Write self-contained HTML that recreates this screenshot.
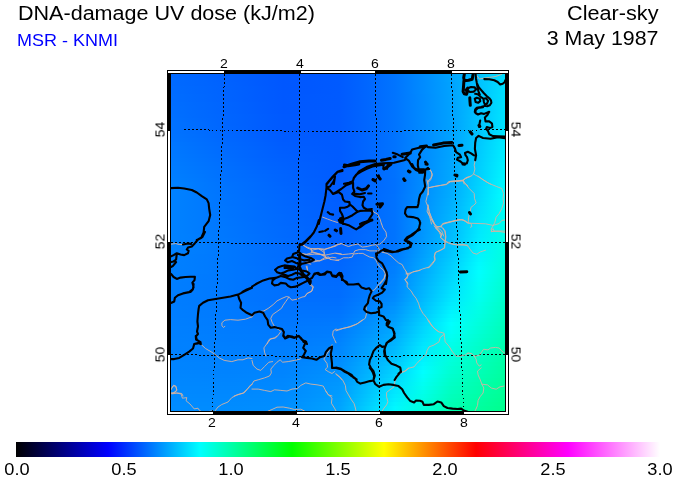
<!DOCTYPE html>
<html><head><meta charset="utf-8"><title>DNA-damage UV dose</title>
<style>
html,body{margin:0;padding:0;background:#fff;}
body{width:676px;height:480px;position:relative;overflow:hidden;font-family:"Liberation Sans",sans-serif;color:#000;}
.t{position:absolute;white-space:nowrap;line-height:1;will-change:transform;-webkit-font-smoothing:antialiased;}
.big{font-size:20px;}
.tl{transform-origin:0 0;}
.tr{transform-origin:100% 0;}
.ax{font-size:13px;width:40px;text-align:center;transform:scaleX(1.08);}
.cb{font-size:17px;width:60px;text-align:center;transform:scaleX(1.07);}
#bar{position:absolute;left:16px;top:442px;width:644px;height:15px;background:linear-gradient(to right,#000000 0.0000%,#0000ff 14.2857%,#00ffff 28.5714%,#00ff00 42.8571%,#ffff00 57.1429%,#ff0000 71.4286%,#ff00ff 85.7143%,#ffffff 100.0000%);}
svg{position:absolute;left:0;top:0;}
</style></head><body>
<div class="t big tl" id="t1" style="left:18px;top:3px;transform:scaleX(1.077)">DNA-damage UV dose (kJ/m2)</div>
<div class="t tl" id="t2" style="left:17px;top:32px;font-size:17px;color:#0000ff;transform:scaleX(1.058)">MSR - KNMI</div>
<div class="t big tr" id="t3" style="right:18px;top:3px;transform:scaleX(1.082)">Clear-sky</div>
<div class="t big tr" id="t4" style="right:17px;top:28px;transform:scaleX(1.069)">3 May 1987</div>
<svg width="676" height="480" viewBox="0 0 676 480">
<defs><linearGradient id="r0"><stop offset="0.0000" stop-color="#0069ff"/><stop offset="0.0838" stop-color="#0065ff"/><stop offset="0.1677" stop-color="#0061ff"/><stop offset="0.2515" stop-color="#005cff"/><stop offset="0.3353" stop-color="#0057ff"/><stop offset="0.4192" stop-color="#0058ff"/><stop offset="0.5030" stop-color="#005aff"/><stop offset="0.5868" stop-color="#0066ff"/><stop offset="0.6707" stop-color="#0074ff"/><stop offset="0.7545" stop-color="#008bff"/><stop offset="0.8383" stop-color="#00a3ff"/><stop offset="0.9222" stop-color="#00c2ff"/><stop offset="1.0000" stop-color="#00deff"/></linearGradient><linearGradient id="r1"><stop offset="0.0000" stop-color="#006aff"/><stop offset="0.0838" stop-color="#0066ff"/><stop offset="0.1677" stop-color="#0061ff"/><stop offset="0.2515" stop-color="#005cff"/><stop offset="0.3353" stop-color="#0057ff"/><stop offset="0.4192" stop-color="#0058ff"/><stop offset="0.5030" stop-color="#005aff"/><stop offset="0.5868" stop-color="#0066ff"/><stop offset="0.6707" stop-color="#0074ff"/><stop offset="0.7545" stop-color="#008bff"/><stop offset="0.8383" stop-color="#00a3ff"/><stop offset="0.9222" stop-color="#00c2ff"/><stop offset="1.0000" stop-color="#00dfff"/></linearGradient><linearGradient id="r2"><stop offset="0.0000" stop-color="#006aff"/><stop offset="0.0838" stop-color="#0066ff"/><stop offset="0.1677" stop-color="#0062ff"/><stop offset="0.2515" stop-color="#005cff"/><stop offset="0.3353" stop-color="#0057ff"/><stop offset="0.4192" stop-color="#0058ff"/><stop offset="0.5030" stop-color="#005aff"/><stop offset="0.5868" stop-color="#0066ff"/><stop offset="0.6707" stop-color="#0074ff"/><stop offset="0.7545" stop-color="#008bff"/><stop offset="0.8383" stop-color="#00a2ff"/><stop offset="0.9222" stop-color="#00c2ff"/><stop offset="1.0000" stop-color="#00dfff"/></linearGradient><linearGradient id="r3"><stop offset="0.0000" stop-color="#006bff"/><stop offset="0.0838" stop-color="#0067ff"/><stop offset="0.1677" stop-color="#0062ff"/><stop offset="0.2515" stop-color="#005dff"/><stop offset="0.3353" stop-color="#0057ff"/><stop offset="0.4192" stop-color="#0058ff"/><stop offset="0.5030" stop-color="#005aff"/><stop offset="0.5868" stop-color="#0066ff"/><stop offset="0.6707" stop-color="#0074ff"/><stop offset="0.7545" stop-color="#008bff"/><stop offset="0.8383" stop-color="#00a2ff"/><stop offset="0.9222" stop-color="#00c2ff"/><stop offset="1.0000" stop-color="#00e0ff"/></linearGradient><linearGradient id="r4"><stop offset="0.0000" stop-color="#006cff"/><stop offset="0.0838" stop-color="#0067ff"/><stop offset="0.1677" stop-color="#0063ff"/><stop offset="0.2515" stop-color="#005dff"/><stop offset="0.3353" stop-color="#0058ff"/><stop offset="0.4192" stop-color="#0058ff"/><stop offset="0.5030" stop-color="#005aff"/><stop offset="0.5868" stop-color="#0066ff"/><stop offset="0.6707" stop-color="#0074ff"/><stop offset="0.7545" stop-color="#008bff"/><stop offset="0.8383" stop-color="#00a2ff"/><stop offset="0.9222" stop-color="#00c2ff"/><stop offset="1.0000" stop-color="#00e0ff"/></linearGradient><linearGradient id="r5"><stop offset="0.0000" stop-color="#006dff"/><stop offset="0.0838" stop-color="#0068ff"/><stop offset="0.1677" stop-color="#0063ff"/><stop offset="0.2515" stop-color="#005dff"/><stop offset="0.3353" stop-color="#0058ff"/><stop offset="0.4192" stop-color="#0059ff"/><stop offset="0.5030" stop-color="#005aff"/><stop offset="0.5868" stop-color="#0066ff"/><stop offset="0.6707" stop-color="#0074ff"/><stop offset="0.7545" stop-color="#008aff"/><stop offset="0.8383" stop-color="#00a2ff"/><stop offset="0.9222" stop-color="#00c3ff"/><stop offset="1.0000" stop-color="#00e1ff"/></linearGradient><linearGradient id="r6"><stop offset="0.0000" stop-color="#006dff"/><stop offset="0.0838" stop-color="#0068ff"/><stop offset="0.1677" stop-color="#0063ff"/><stop offset="0.2515" stop-color="#005dff"/><stop offset="0.3353" stop-color="#0058ff"/><stop offset="0.4192" stop-color="#0059ff"/><stop offset="0.5030" stop-color="#005aff"/><stop offset="0.5868" stop-color="#0066ff"/><stop offset="0.6707" stop-color="#0074ff"/><stop offset="0.7545" stop-color="#008aff"/><stop offset="0.8383" stop-color="#00a2ff"/><stop offset="0.9222" stop-color="#00c3ff"/><stop offset="1.0000" stop-color="#00e1ff"/></linearGradient><linearGradient id="r7"><stop offset="0.0000" stop-color="#006eff"/><stop offset="0.0838" stop-color="#0069ff"/><stop offset="0.1677" stop-color="#0064ff"/><stop offset="0.2515" stop-color="#005eff"/><stop offset="0.3353" stop-color="#0058ff"/><stop offset="0.4192" stop-color="#0059ff"/><stop offset="0.5030" stop-color="#005aff"/><stop offset="0.5868" stop-color="#0066ff"/><stop offset="0.6707" stop-color="#0074ff"/><stop offset="0.7545" stop-color="#008aff"/><stop offset="0.8383" stop-color="#00a2ff"/><stop offset="0.9222" stop-color="#00c3ff"/><stop offset="1.0000" stop-color="#00e2ff"/></linearGradient><linearGradient id="r8"><stop offset="0.0000" stop-color="#006fff"/><stop offset="0.0838" stop-color="#0069ff"/><stop offset="0.1677" stop-color="#0064ff"/><stop offset="0.2515" stop-color="#005eff"/><stop offset="0.3353" stop-color="#0058ff"/><stop offset="0.4192" stop-color="#0059ff"/><stop offset="0.5030" stop-color="#005aff"/><stop offset="0.5868" stop-color="#0066ff"/><stop offset="0.6707" stop-color="#0074ff"/><stop offset="0.7545" stop-color="#008aff"/><stop offset="0.8383" stop-color="#00a2ff"/><stop offset="0.9222" stop-color="#00c3ff"/><stop offset="1.0000" stop-color="#00e2ff"/></linearGradient><linearGradient id="r9"><stop offset="0.0000" stop-color="#006fff"/><stop offset="0.0838" stop-color="#006aff"/><stop offset="0.1677" stop-color="#0064ff"/><stop offset="0.2515" stop-color="#005eff"/><stop offset="0.3353" stop-color="#0058ff"/><stop offset="0.4192" stop-color="#0059ff"/><stop offset="0.5030" stop-color="#005aff"/><stop offset="0.5868" stop-color="#0066ff"/><stop offset="0.6707" stop-color="#0074ff"/><stop offset="0.7545" stop-color="#008aff"/><stop offset="0.8383" stop-color="#00a1ff"/><stop offset="0.9222" stop-color="#00c3ff"/><stop offset="1.0000" stop-color="#00e3ff"/></linearGradient><linearGradient id="r10"><stop offset="0.0000" stop-color="#0070ff"/><stop offset="0.0838" stop-color="#006aff"/><stop offset="0.1677" stop-color="#0065ff"/><stop offset="0.2515" stop-color="#005fff"/><stop offset="0.3353" stop-color="#0059ff"/><stop offset="0.4192" stop-color="#0059ff"/><stop offset="0.5030" stop-color="#005aff"/><stop offset="0.5868" stop-color="#0066ff"/><stop offset="0.6707" stop-color="#0074ff"/><stop offset="0.7545" stop-color="#008aff"/><stop offset="0.8383" stop-color="#00a1ff"/><stop offset="0.9222" stop-color="#00c4ff"/><stop offset="1.0000" stop-color="#00e4ff"/></linearGradient><linearGradient id="r11"><stop offset="0.0000" stop-color="#0071ff"/><stop offset="0.0838" stop-color="#006bff"/><stop offset="0.1677" stop-color="#0065ff"/><stop offset="0.2515" stop-color="#005fff"/><stop offset="0.3353" stop-color="#0059ff"/><stop offset="0.4192" stop-color="#0059ff"/><stop offset="0.5030" stop-color="#005aff"/><stop offset="0.5868" stop-color="#0066ff"/><stop offset="0.6707" stop-color="#0074ff"/><stop offset="0.7545" stop-color="#008aff"/><stop offset="0.8383" stop-color="#00a1ff"/><stop offset="0.9222" stop-color="#00c4ff"/><stop offset="1.0000" stop-color="#00e4ff"/></linearGradient><linearGradient id="r12"><stop offset="0.0000" stop-color="#0072ff"/><stop offset="0.0838" stop-color="#006cff"/><stop offset="0.1677" stop-color="#0065ff"/><stop offset="0.2515" stop-color="#005fff"/><stop offset="0.3353" stop-color="#0059ff"/><stop offset="0.4192" stop-color="#0059ff"/><stop offset="0.5030" stop-color="#005aff"/><stop offset="0.5868" stop-color="#0066ff"/><stop offset="0.6707" stop-color="#0074ff"/><stop offset="0.7545" stop-color="#008aff"/><stop offset="0.8383" stop-color="#00a1ff"/><stop offset="0.9222" stop-color="#00c4ff"/><stop offset="1.0000" stop-color="#00e5ff"/></linearGradient><linearGradient id="r13"><stop offset="0.0000" stop-color="#0072ff"/><stop offset="0.0838" stop-color="#006cff"/><stop offset="0.1677" stop-color="#0066ff"/><stop offset="0.2515" stop-color="#005fff"/><stop offset="0.3353" stop-color="#0059ff"/><stop offset="0.4192" stop-color="#0059ff"/><stop offset="0.5030" stop-color="#005aff"/><stop offset="0.5868" stop-color="#0066ff"/><stop offset="0.6707" stop-color="#0074ff"/><stop offset="0.7545" stop-color="#008aff"/><stop offset="0.8383" stop-color="#00a1ff"/><stop offset="0.9222" stop-color="#00c4ff"/><stop offset="1.0000" stop-color="#00e5ff"/></linearGradient><linearGradient id="r14"><stop offset="0.0000" stop-color="#0073ff"/><stop offset="0.0838" stop-color="#006dff"/><stop offset="0.1677" stop-color="#0066ff"/><stop offset="0.2515" stop-color="#0060ff"/><stop offset="0.3353" stop-color="#005aff"/><stop offset="0.4192" stop-color="#005aff"/><stop offset="0.5030" stop-color="#005aff"/><stop offset="0.5868" stop-color="#0066ff"/><stop offset="0.6707" stop-color="#0073ff"/><stop offset="0.7545" stop-color="#008aff"/><stop offset="0.8383" stop-color="#00a1ff"/><stop offset="0.9222" stop-color="#00c5ff"/><stop offset="1.0000" stop-color="#00e6ff"/></linearGradient><linearGradient id="r15"><stop offset="0.0000" stop-color="#0074ff"/><stop offset="0.0838" stop-color="#006eff"/><stop offset="0.1677" stop-color="#0067ff"/><stop offset="0.2515" stop-color="#0061ff"/><stop offset="0.3353" stop-color="#005bff"/><stop offset="0.4192" stop-color="#005aff"/><stop offset="0.5030" stop-color="#005aff"/><stop offset="0.5868" stop-color="#0066ff"/><stop offset="0.6707" stop-color="#0073ff"/><stop offset="0.7545" stop-color="#008aff"/><stop offset="0.8383" stop-color="#00a2ff"/><stop offset="0.9222" stop-color="#00c6ff"/><stop offset="1.0000" stop-color="#00e8ff"/></linearGradient><linearGradient id="r16"><stop offset="0.0000" stop-color="#0075ff"/><stop offset="0.0838" stop-color="#006fff"/><stop offset="0.1677" stop-color="#0068ff"/><stop offset="0.2515" stop-color="#0062ff"/><stop offset="0.3353" stop-color="#005bff"/><stop offset="0.4192" stop-color="#005bff"/><stop offset="0.5030" stop-color="#005aff"/><stop offset="0.5868" stop-color="#0066ff"/><stop offset="0.6707" stop-color="#0073ff"/><stop offset="0.7545" stop-color="#008aff"/><stop offset="0.8383" stop-color="#00a2ff"/><stop offset="0.9222" stop-color="#00c7ff"/><stop offset="1.0000" stop-color="#00e9ff"/></linearGradient><linearGradient id="r17"><stop offset="0.0000" stop-color="#0077ff"/><stop offset="0.0838" stop-color="#0070ff"/><stop offset="0.1677" stop-color="#0069ff"/><stop offset="0.2515" stop-color="#0063ff"/><stop offset="0.3353" stop-color="#005cff"/><stop offset="0.4192" stop-color="#005bff"/><stop offset="0.5030" stop-color="#005aff"/><stop offset="0.5868" stop-color="#0066ff"/><stop offset="0.6707" stop-color="#0073ff"/><stop offset="0.7545" stop-color="#008aff"/><stop offset="0.8383" stop-color="#00a3ff"/><stop offset="0.9222" stop-color="#00c8ff"/><stop offset="1.0000" stop-color="#00ebff"/></linearGradient><linearGradient id="r18"><stop offset="0.0000" stop-color="#0078ff"/><stop offset="0.0838" stop-color="#0071ff"/><stop offset="0.1677" stop-color="#006aff"/><stop offset="0.2515" stop-color="#0064ff"/><stop offset="0.3353" stop-color="#005dff"/><stop offset="0.4192" stop-color="#005cff"/><stop offset="0.5030" stop-color="#005aff"/><stop offset="0.5868" stop-color="#0066ff"/><stop offset="0.6707" stop-color="#0073ff"/><stop offset="0.7545" stop-color="#008bff"/><stop offset="0.8383" stop-color="#00a3ff"/><stop offset="0.9222" stop-color="#00c9ff"/><stop offset="1.0000" stop-color="#00ecff"/></linearGradient><linearGradient id="r19"><stop offset="0.0000" stop-color="#0079ff"/><stop offset="0.0838" stop-color="#0072ff"/><stop offset="0.1677" stop-color="#006bff"/><stop offset="0.2515" stop-color="#0065ff"/><stop offset="0.3353" stop-color="#005eff"/><stop offset="0.4192" stop-color="#005cff"/><stop offset="0.5030" stop-color="#005bff"/><stop offset="0.5868" stop-color="#0066ff"/><stop offset="0.6707" stop-color="#0073ff"/><stop offset="0.7545" stop-color="#008bff"/><stop offset="0.8383" stop-color="#00a4ff"/><stop offset="0.9222" stop-color="#00caff"/><stop offset="1.0000" stop-color="#00eeff"/></linearGradient><linearGradient id="r20"><stop offset="0.0000" stop-color="#007aff"/><stop offset="0.0838" stop-color="#0073ff"/><stop offset="0.1677" stop-color="#006cff"/><stop offset="0.2515" stop-color="#0065ff"/><stop offset="0.3353" stop-color="#005fff"/><stop offset="0.4192" stop-color="#005dff"/><stop offset="0.5030" stop-color="#005bff"/><stop offset="0.5868" stop-color="#0066ff"/><stop offset="0.6707" stop-color="#0072ff"/><stop offset="0.7545" stop-color="#008bff"/><stop offset="0.8383" stop-color="#00a4ff"/><stop offset="0.9222" stop-color="#00cbff"/><stop offset="1.0000" stop-color="#00efff"/></linearGradient><linearGradient id="r21"><stop offset="0.0000" stop-color="#007bff"/><stop offset="0.0838" stop-color="#0074ff"/><stop offset="0.1677" stop-color="#006dff"/><stop offset="0.2515" stop-color="#0066ff"/><stop offset="0.3353" stop-color="#0060ff"/><stop offset="0.4192" stop-color="#005dff"/><stop offset="0.5030" stop-color="#005bff"/><stop offset="0.5868" stop-color="#0066ff"/><stop offset="0.6707" stop-color="#0072ff"/><stop offset="0.7545" stop-color="#008bff"/><stop offset="0.8383" stop-color="#00a5ff"/><stop offset="0.9222" stop-color="#00ccff"/><stop offset="1.0000" stop-color="#00f0ff"/></linearGradient><linearGradient id="r22"><stop offset="0.0000" stop-color="#007cff"/><stop offset="0.0838" stop-color="#0075ff"/><stop offset="0.1677" stop-color="#006eff"/><stop offset="0.2515" stop-color="#0067ff"/><stop offset="0.3353" stop-color="#0061ff"/><stop offset="0.4192" stop-color="#005eff"/><stop offset="0.5030" stop-color="#005bff"/><stop offset="0.5868" stop-color="#0066ff"/><stop offset="0.6707" stop-color="#0072ff"/><stop offset="0.7545" stop-color="#008bff"/><stop offset="0.8383" stop-color="#00a6ff"/><stop offset="0.9222" stop-color="#00cdff"/><stop offset="1.0000" stop-color="#00f2ff"/></linearGradient><linearGradient id="r23"><stop offset="0.0000" stop-color="#007dff"/><stop offset="0.0838" stop-color="#0076ff"/><stop offset="0.1677" stop-color="#006fff"/><stop offset="0.2515" stop-color="#0068ff"/><stop offset="0.3353" stop-color="#0062ff"/><stop offset="0.4192" stop-color="#005eff"/><stop offset="0.5030" stop-color="#005bff"/><stop offset="0.5868" stop-color="#0066ff"/><stop offset="0.6707" stop-color="#0072ff"/><stop offset="0.7545" stop-color="#008cff"/><stop offset="0.8383" stop-color="#00a6ff"/><stop offset="0.9222" stop-color="#00ceff"/><stop offset="1.0000" stop-color="#00f3ff"/></linearGradient><linearGradient id="r24"><stop offset="0.0000" stop-color="#007eff"/><stop offset="0.0838" stop-color="#0077ff"/><stop offset="0.1677" stop-color="#0070ff"/><stop offset="0.2515" stop-color="#0069ff"/><stop offset="0.3353" stop-color="#0063ff"/><stop offset="0.4192" stop-color="#005fff"/><stop offset="0.5030" stop-color="#005cff"/><stop offset="0.5868" stop-color="#0066ff"/><stop offset="0.6707" stop-color="#0072ff"/><stop offset="0.7545" stop-color="#008cff"/><stop offset="0.8383" stop-color="#00a7ff"/><stop offset="0.9222" stop-color="#00cfff"/><stop offset="1.0000" stop-color="#00f5ff"/></linearGradient><linearGradient id="r25"><stop offset="0.0000" stop-color="#007fff"/><stop offset="0.0838" stop-color="#0078ff"/><stop offset="0.1677" stop-color="#0070ff"/><stop offset="0.2515" stop-color="#006aff"/><stop offset="0.3353" stop-color="#0064ff"/><stop offset="0.4192" stop-color="#005fff"/><stop offset="0.5030" stop-color="#005cff"/><stop offset="0.5868" stop-color="#0066ff"/><stop offset="0.6707" stop-color="#0072ff"/><stop offset="0.7545" stop-color="#008cff"/><stop offset="0.8383" stop-color="#00a7ff"/><stop offset="0.9222" stop-color="#00d0ff"/><stop offset="1.0000" stop-color="#00f6ff"/></linearGradient><linearGradient id="r26"><stop offset="0.0000" stop-color="#0080ff"/><stop offset="0.0838" stop-color="#0079ff"/><stop offset="0.1677" stop-color="#0071ff"/><stop offset="0.2515" stop-color="#006bff"/><stop offset="0.3353" stop-color="#0064ff"/><stop offset="0.4192" stop-color="#0060ff"/><stop offset="0.5030" stop-color="#005cff"/><stop offset="0.5868" stop-color="#0066ff"/><stop offset="0.6707" stop-color="#0071ff"/><stop offset="0.7545" stop-color="#008cff"/><stop offset="0.8383" stop-color="#00a8ff"/><stop offset="0.9222" stop-color="#00d1ff"/><stop offset="1.0000" stop-color="#00f8ff"/></linearGradient><linearGradient id="r27"><stop offset="0.0000" stop-color="#0082ff"/><stop offset="0.0838" stop-color="#007aff"/><stop offset="0.1677" stop-color="#0072ff"/><stop offset="0.2515" stop-color="#006cff"/><stop offset="0.3353" stop-color="#0065ff"/><stop offset="0.4192" stop-color="#0060ff"/><stop offset="0.5030" stop-color="#005cff"/><stop offset="0.5868" stop-color="#0066ff"/><stop offset="0.6707" stop-color="#0071ff"/><stop offset="0.7545" stop-color="#008cff"/><stop offset="0.8383" stop-color="#00a8ff"/><stop offset="0.9222" stop-color="#00d2ff"/><stop offset="1.0000" stop-color="#00f9ff"/></linearGradient><linearGradient id="r28"><stop offset="0.0000" stop-color="#0082ff"/><stop offset="0.0838" stop-color="#007aff"/><stop offset="0.1677" stop-color="#0073ff"/><stop offset="0.2515" stop-color="#006cff"/><stop offset="0.3353" stop-color="#0066ff"/><stop offset="0.4192" stop-color="#0061ff"/><stop offset="0.5030" stop-color="#005cff"/><stop offset="0.5868" stop-color="#0066ff"/><stop offset="0.6707" stop-color="#0071ff"/><stop offset="0.7545" stop-color="#008dff"/><stop offset="0.8383" stop-color="#00a9ff"/><stop offset="0.9222" stop-color="#00d4ff"/><stop offset="1.0000" stop-color="#00fbff"/></linearGradient><linearGradient id="r29"><stop offset="0.0000" stop-color="#0082ff"/><stop offset="0.0838" stop-color="#007bff"/><stop offset="0.1677" stop-color="#0073ff"/><stop offset="0.2515" stop-color="#006dff"/><stop offset="0.3353" stop-color="#0066ff"/><stop offset="0.4192" stop-color="#0061ff"/><stop offset="0.5030" stop-color="#005dff"/><stop offset="0.5868" stop-color="#0067ff"/><stop offset="0.6707" stop-color="#0071ff"/><stop offset="0.7545" stop-color="#008eff"/><stop offset="0.8383" stop-color="#00abff"/><stop offset="0.9222" stop-color="#00d6ff"/><stop offset="1.0000" stop-color="#00fdff"/></linearGradient><linearGradient id="r30"><stop offset="0.0000" stop-color="#0082ff"/><stop offset="0.0838" stop-color="#007bff"/><stop offset="0.1677" stop-color="#0074ff"/><stop offset="0.2515" stop-color="#006dff"/><stop offset="0.3353" stop-color="#0067ff"/><stop offset="0.4192" stop-color="#0062ff"/><stop offset="0.5030" stop-color="#005dff"/><stop offset="0.5868" stop-color="#0067ff"/><stop offset="0.6707" stop-color="#0072ff"/><stop offset="0.7545" stop-color="#008fff"/><stop offset="0.8383" stop-color="#00acff"/><stop offset="0.9222" stop-color="#00d7ff"/><stop offset="1.0000" stop-color="#00ffff"/></linearGradient><linearGradient id="r31"><stop offset="0.0000" stop-color="#0082ff"/><stop offset="0.0838" stop-color="#007bff"/><stop offset="0.1677" stop-color="#0074ff"/><stop offset="0.2515" stop-color="#006eff"/><stop offset="0.3353" stop-color="#0067ff"/><stop offset="0.4192" stop-color="#0062ff"/><stop offset="0.5030" stop-color="#005dff"/><stop offset="0.5868" stop-color="#0067ff"/><stop offset="0.6707" stop-color="#0072ff"/><stop offset="0.7545" stop-color="#008fff"/><stop offset="0.8383" stop-color="#00aeff"/><stop offset="0.9222" stop-color="#00d9ff"/><stop offset="1.0000" stop-color="#00fffc"/></linearGradient><linearGradient id="r32"><stop offset="0.0000" stop-color="#0082ff"/><stop offset="0.0838" stop-color="#007bff"/><stop offset="0.1677" stop-color="#0074ff"/><stop offset="0.2515" stop-color="#006eff"/><stop offset="0.3353" stop-color="#0067ff"/><stop offset="0.4192" stop-color="#0062ff"/><stop offset="0.5030" stop-color="#005eff"/><stop offset="0.5868" stop-color="#0068ff"/><stop offset="0.6707" stop-color="#0072ff"/><stop offset="0.7545" stop-color="#0090ff"/><stop offset="0.8383" stop-color="#00afff"/><stop offset="0.9222" stop-color="#00dbff"/><stop offset="1.0000" stop-color="#00fffa"/></linearGradient><linearGradient id="r33"><stop offset="0.0000" stop-color="#0082ff"/><stop offset="0.0838" stop-color="#007bff"/><stop offset="0.1677" stop-color="#0075ff"/><stop offset="0.2515" stop-color="#006eff"/><stop offset="0.3353" stop-color="#0068ff"/><stop offset="0.4192" stop-color="#0063ff"/><stop offset="0.5030" stop-color="#005eff"/><stop offset="0.5868" stop-color="#0068ff"/><stop offset="0.6707" stop-color="#0072ff"/><stop offset="0.7545" stop-color="#0091ff"/><stop offset="0.8383" stop-color="#00b1ff"/><stop offset="0.9222" stop-color="#00ddff"/><stop offset="1.0000" stop-color="#00fff8"/></linearGradient><linearGradient id="r34"><stop offset="0.0000" stop-color="#0082ff"/><stop offset="0.0838" stop-color="#007cff"/><stop offset="0.1677" stop-color="#0075ff"/><stop offset="0.2515" stop-color="#006fff"/><stop offset="0.3353" stop-color="#0068ff"/><stop offset="0.4192" stop-color="#0063ff"/><stop offset="0.5030" stop-color="#005fff"/><stop offset="0.5868" stop-color="#0068ff"/><stop offset="0.6707" stop-color="#0073ff"/><stop offset="0.7545" stop-color="#0092ff"/><stop offset="0.8383" stop-color="#00b2ff"/><stop offset="0.9222" stop-color="#00dfff"/><stop offset="1.0000" stop-color="#00fff6"/></linearGradient><linearGradient id="r35"><stop offset="0.0000" stop-color="#0082ff"/><stop offset="0.0838" stop-color="#007cff"/><stop offset="0.1677" stop-color="#0075ff"/><stop offset="0.2515" stop-color="#006fff"/><stop offset="0.3353" stop-color="#0069ff"/><stop offset="0.4192" stop-color="#0063ff"/><stop offset="0.5030" stop-color="#005fff"/><stop offset="0.5868" stop-color="#0068ff"/><stop offset="0.6707" stop-color="#0073ff"/><stop offset="0.7545" stop-color="#0093ff"/><stop offset="0.8383" stop-color="#00b4ff"/><stop offset="0.9222" stop-color="#00e1ff"/><stop offset="1.0000" stop-color="#00fff4"/></linearGradient><linearGradient id="r36"><stop offset="0.0000" stop-color="#0082ff"/><stop offset="0.0838" stop-color="#007cff"/><stop offset="0.1677" stop-color="#0076ff"/><stop offset="0.2515" stop-color="#006fff"/><stop offset="0.3353" stop-color="#0069ff"/><stop offset="0.4192" stop-color="#0064ff"/><stop offset="0.5030" stop-color="#005fff"/><stop offset="0.5868" stop-color="#0069ff"/><stop offset="0.6707" stop-color="#0073ff"/><stop offset="0.7545" stop-color="#0094ff"/><stop offset="0.8383" stop-color="#00b5ff"/><stop offset="0.9222" stop-color="#00e3ff"/><stop offset="1.0000" stop-color="#00fff2"/></linearGradient><linearGradient id="r37"><stop offset="0.0000" stop-color="#0082ff"/><stop offset="0.0838" stop-color="#007cff"/><stop offset="0.1677" stop-color="#0076ff"/><stop offset="0.2515" stop-color="#0070ff"/><stop offset="0.3353" stop-color="#0069ff"/><stop offset="0.4192" stop-color="#0064ff"/><stop offset="0.5030" stop-color="#0060ff"/><stop offset="0.5868" stop-color="#0069ff"/><stop offset="0.6707" stop-color="#0073ff"/><stop offset="0.7545" stop-color="#0095ff"/><stop offset="0.8383" stop-color="#00b7ff"/><stop offset="0.9222" stop-color="#00e4ff"/><stop offset="1.0000" stop-color="#00ffef"/></linearGradient><linearGradient id="r38"><stop offset="0.0000" stop-color="#0082ff"/><stop offset="0.0838" stop-color="#007cff"/><stop offset="0.1677" stop-color="#0077ff"/><stop offset="0.2515" stop-color="#0070ff"/><stop offset="0.3353" stop-color="#006aff"/><stop offset="0.4192" stop-color="#0065ff"/><stop offset="0.5030" stop-color="#0060ff"/><stop offset="0.5868" stop-color="#0069ff"/><stop offset="0.6707" stop-color="#0073ff"/><stop offset="0.7545" stop-color="#0095ff"/><stop offset="0.8383" stop-color="#00b8ff"/><stop offset="0.9222" stop-color="#00e6ff"/><stop offset="1.0000" stop-color="#00ffed"/></linearGradient><linearGradient id="r39"><stop offset="0.0000" stop-color="#0082ff"/><stop offset="0.0838" stop-color="#007cff"/><stop offset="0.1677" stop-color="#0077ff"/><stop offset="0.2515" stop-color="#0070ff"/><stop offset="0.3353" stop-color="#006aff"/><stop offset="0.4192" stop-color="#0065ff"/><stop offset="0.5030" stop-color="#0060ff"/><stop offset="0.5868" stop-color="#0069ff"/><stop offset="0.6707" stop-color="#0074ff"/><stop offset="0.7545" stop-color="#0096ff"/><stop offset="0.8383" stop-color="#00baff"/><stop offset="0.9222" stop-color="#00e8ff"/><stop offset="1.0000" stop-color="#00ffeb"/></linearGradient><linearGradient id="r40"><stop offset="0.0000" stop-color="#0082ff"/><stop offset="0.0838" stop-color="#007dff"/><stop offset="0.1677" stop-color="#0077ff"/><stop offset="0.2515" stop-color="#0071ff"/><stop offset="0.3353" stop-color="#006aff"/><stop offset="0.4192" stop-color="#0065ff"/><stop offset="0.5030" stop-color="#0061ff"/><stop offset="0.5868" stop-color="#006aff"/><stop offset="0.6707" stop-color="#0074ff"/><stop offset="0.7545" stop-color="#0097ff"/><stop offset="0.8383" stop-color="#00bbff"/><stop offset="0.9222" stop-color="#00eaff"/><stop offset="1.0000" stop-color="#00ffe9"/></linearGradient><linearGradient id="r41"><stop offset="0.0000" stop-color="#0082ff"/><stop offset="0.0838" stop-color="#007dff"/><stop offset="0.1677" stop-color="#0078ff"/><stop offset="0.2515" stop-color="#0071ff"/><stop offset="0.3353" stop-color="#006bff"/><stop offset="0.4192" stop-color="#0066ff"/><stop offset="0.5030" stop-color="#0061ff"/><stop offset="0.5868" stop-color="#006aff"/><stop offset="0.6707" stop-color="#0074ff"/><stop offset="0.7545" stop-color="#0098ff"/><stop offset="0.8383" stop-color="#00bdff"/><stop offset="0.9222" stop-color="#00ecff"/><stop offset="1.0000" stop-color="#00ffe7"/></linearGradient><linearGradient id="r42"><stop offset="0.0000" stop-color="#0082ff"/><stop offset="0.0838" stop-color="#007dff"/><stop offset="0.1677" stop-color="#0078ff"/><stop offset="0.2515" stop-color="#0071ff"/><stop offset="0.3353" stop-color="#006bff"/><stop offset="0.4192" stop-color="#0066ff"/><stop offset="0.5030" stop-color="#0062ff"/><stop offset="0.5868" stop-color="#006bff"/><stop offset="0.6707" stop-color="#0075ff"/><stop offset="0.7545" stop-color="#009aff"/><stop offset="0.8383" stop-color="#00bfff"/><stop offset="0.9222" stop-color="#00eeff"/><stop offset="1.0000" stop-color="#00ffe5"/></linearGradient><linearGradient id="r43"><stop offset="0.0000" stop-color="#0082ff"/><stop offset="0.0838" stop-color="#007dff"/><stop offset="0.1677" stop-color="#0078ff"/><stop offset="0.2515" stop-color="#0072ff"/><stop offset="0.3353" stop-color="#006bff"/><stop offset="0.4192" stop-color="#0067ff"/><stop offset="0.5030" stop-color="#0063ff"/><stop offset="0.5868" stop-color="#006cff"/><stop offset="0.6707" stop-color="#0076ff"/><stop offset="0.7545" stop-color="#009cff"/><stop offset="0.8383" stop-color="#00c2ff"/><stop offset="0.9222" stop-color="#00f0ff"/><stop offset="1.0000" stop-color="#00ffe3"/></linearGradient><linearGradient id="r44"><stop offset="0.0000" stop-color="#0081ff"/><stop offset="0.0838" stop-color="#007dff"/><stop offset="0.1677" stop-color="#0078ff"/><stop offset="0.2515" stop-color="#0072ff"/><stop offset="0.3353" stop-color="#006cff"/><stop offset="0.4192" stop-color="#0067ff"/><stop offset="0.5030" stop-color="#0063ff"/><stop offset="0.5868" stop-color="#006dff"/><stop offset="0.6707" stop-color="#0078ff"/><stop offset="0.7545" stop-color="#009eff"/><stop offset="0.8383" stop-color="#00c5ff"/><stop offset="0.9222" stop-color="#00f3ff"/><stop offset="1.0000" stop-color="#00ffe1"/></linearGradient><linearGradient id="r45"><stop offset="0.0000" stop-color="#0081ff"/><stop offset="0.0838" stop-color="#007cff"/><stop offset="0.1677" stop-color="#0078ff"/><stop offset="0.2515" stop-color="#0072ff"/><stop offset="0.3353" stop-color="#006cff"/><stop offset="0.4192" stop-color="#0068ff"/><stop offset="0.5030" stop-color="#0064ff"/><stop offset="0.5868" stop-color="#006fff"/><stop offset="0.6707" stop-color="#007aff"/><stop offset="0.7545" stop-color="#00a0ff"/><stop offset="0.8383" stop-color="#00c7ff"/><stop offset="0.9222" stop-color="#00f5ff"/><stop offset="1.0000" stop-color="#00ffdf"/></linearGradient><linearGradient id="r46"><stop offset="0.0000" stop-color="#0080ff"/><stop offset="0.0838" stop-color="#007cff"/><stop offset="0.1677" stop-color="#0078ff"/><stop offset="0.2515" stop-color="#0072ff"/><stop offset="0.3353" stop-color="#006dff"/><stop offset="0.4192" stop-color="#0069ff"/><stop offset="0.5030" stop-color="#0065ff"/><stop offset="0.5868" stop-color="#0070ff"/><stop offset="0.6707" stop-color="#007bff"/><stop offset="0.7545" stop-color="#00a3ff"/><stop offset="0.8383" stop-color="#00caff"/><stop offset="0.9222" stop-color="#00f7ff"/><stop offset="1.0000" stop-color="#00ffdd"/></linearGradient><linearGradient id="r47"><stop offset="0.0000" stop-color="#0080ff"/><stop offset="0.0838" stop-color="#007cff"/><stop offset="0.1677" stop-color="#0078ff"/><stop offset="0.2515" stop-color="#0072ff"/><stop offset="0.3353" stop-color="#006dff"/><stop offset="0.4192" stop-color="#0069ff"/><stop offset="0.5030" stop-color="#0066ff"/><stop offset="0.5868" stop-color="#0071ff"/><stop offset="0.6707" stop-color="#007dff"/><stop offset="0.7545" stop-color="#00a5ff"/><stop offset="0.8383" stop-color="#00cdff"/><stop offset="0.9222" stop-color="#00faff"/><stop offset="1.0000" stop-color="#00ffdb"/></linearGradient><linearGradient id="r48"><stop offset="0.0000" stop-color="#0080ff"/><stop offset="0.0838" stop-color="#007cff"/><stop offset="0.1677" stop-color="#0078ff"/><stop offset="0.2515" stop-color="#0073ff"/><stop offset="0.3353" stop-color="#006dff"/><stop offset="0.4192" stop-color="#006aff"/><stop offset="0.5030" stop-color="#0067ff"/><stop offset="0.5868" stop-color="#0072ff"/><stop offset="0.6707" stop-color="#007fff"/><stop offset="0.7545" stop-color="#00a7ff"/><stop offset="0.8383" stop-color="#00d0ff"/><stop offset="0.9222" stop-color="#00fcff"/><stop offset="1.0000" stop-color="#00ffd9"/></linearGradient><linearGradient id="r49"><stop offset="0.0000" stop-color="#007fff"/><stop offset="0.0838" stop-color="#007cff"/><stop offset="0.1677" stop-color="#0078ff"/><stop offset="0.2515" stop-color="#0073ff"/><stop offset="0.3353" stop-color="#006eff"/><stop offset="0.4192" stop-color="#006bff"/><stop offset="0.5030" stop-color="#0068ff"/><stop offset="0.5868" stop-color="#0074ff"/><stop offset="0.6707" stop-color="#0080ff"/><stop offset="0.7545" stop-color="#00a9ff"/><stop offset="0.8383" stop-color="#00d3ff"/><stop offset="0.9222" stop-color="#00ffff"/><stop offset="1.0000" stop-color="#00ffd7"/></linearGradient><linearGradient id="r50"><stop offset="0.0000" stop-color="#007fff"/><stop offset="0.0838" stop-color="#007bff"/><stop offset="0.1677" stop-color="#0078ff"/><stop offset="0.2515" stop-color="#0073ff"/><stop offset="0.3353" stop-color="#006eff"/><stop offset="0.4192" stop-color="#006bff"/><stop offset="0.5030" stop-color="#0069ff"/><stop offset="0.5868" stop-color="#0075ff"/><stop offset="0.6707" stop-color="#0082ff"/><stop offset="0.7545" stop-color="#00acff"/><stop offset="0.8383" stop-color="#00d6ff"/><stop offset="0.9222" stop-color="#00fffd"/><stop offset="1.0000" stop-color="#00ffd5"/></linearGradient><linearGradient id="r51"><stop offset="0.0000" stop-color="#007fff"/><stop offset="0.0838" stop-color="#007bff"/><stop offset="0.1677" stop-color="#0078ff"/><stop offset="0.2515" stop-color="#0073ff"/><stop offset="0.3353" stop-color="#006eff"/><stop offset="0.4192" stop-color="#006cff"/><stop offset="0.5030" stop-color="#006aff"/><stop offset="0.5868" stop-color="#0076ff"/><stop offset="0.6707" stop-color="#0084ff"/><stop offset="0.7545" stop-color="#00aeff"/><stop offset="0.8383" stop-color="#00d8ff"/><stop offset="0.9222" stop-color="#00fffb"/><stop offset="1.0000" stop-color="#00ffd3"/></linearGradient><linearGradient id="r52"><stop offset="0.0000" stop-color="#007eff"/><stop offset="0.0838" stop-color="#007bff"/><stop offset="0.1677" stop-color="#0078ff"/><stop offset="0.2515" stop-color="#0073ff"/><stop offset="0.3353" stop-color="#006fff"/><stop offset="0.4192" stop-color="#006cff"/><stop offset="0.5030" stop-color="#006bff"/><stop offset="0.5868" stop-color="#0077ff"/><stop offset="0.6707" stop-color="#0085ff"/><stop offset="0.7545" stop-color="#00b0ff"/><stop offset="0.8383" stop-color="#00dbff"/><stop offset="0.9222" stop-color="#00fff8"/><stop offset="1.0000" stop-color="#00ffd1"/></linearGradient><linearGradient id="r53"><stop offset="0.0000" stop-color="#007eff"/><stop offset="0.0838" stop-color="#007bff"/><stop offset="0.1677" stop-color="#0078ff"/><stop offset="0.2515" stop-color="#0073ff"/><stop offset="0.3353" stop-color="#006fff"/><stop offset="0.4192" stop-color="#006dff"/><stop offset="0.5030" stop-color="#006cff"/><stop offset="0.5868" stop-color="#0079ff"/><stop offset="0.6707" stop-color="#0087ff"/><stop offset="0.7545" stop-color="#00b3ff"/><stop offset="0.8383" stop-color="#00deff"/><stop offset="0.9222" stop-color="#00fff6"/><stop offset="1.0000" stop-color="#00ffcf"/></linearGradient><linearGradient id="r54"><stop offset="0.0000" stop-color="#007eff"/><stop offset="0.0838" stop-color="#007bff"/><stop offset="0.1677" stop-color="#0078ff"/><stop offset="0.2515" stop-color="#0074ff"/><stop offset="0.3353" stop-color="#0070ff"/><stop offset="0.4192" stop-color="#006eff"/><stop offset="0.5030" stop-color="#006dff"/><stop offset="0.5868" stop-color="#007aff"/><stop offset="0.6707" stop-color="#0088ff"/><stop offset="0.7545" stop-color="#00b5ff"/><stop offset="0.8383" stop-color="#00e1ff"/><stop offset="0.9222" stop-color="#00fff4"/><stop offset="1.0000" stop-color="#00ffcd"/></linearGradient><linearGradient id="r55"><stop offset="0.0000" stop-color="#007dff"/><stop offset="0.0838" stop-color="#007bff"/><stop offset="0.1677" stop-color="#0078ff"/><stop offset="0.2515" stop-color="#0074ff"/><stop offset="0.3353" stop-color="#0070ff"/><stop offset="0.4192" stop-color="#006eff"/><stop offset="0.5030" stop-color="#006dff"/><stop offset="0.5868" stop-color="#007bff"/><stop offset="0.6707" stop-color="#008aff"/><stop offset="0.7545" stop-color="#00b7ff"/><stop offset="0.8383" stop-color="#00e4ff"/><stop offset="0.9222" stop-color="#00fff1"/><stop offset="1.0000" stop-color="#00ffcb"/></linearGradient><linearGradient id="r56"><stop offset="0.0000" stop-color="#007dff"/><stop offset="0.0838" stop-color="#007bff"/><stop offset="0.1677" stop-color="#0078ff"/><stop offset="0.2515" stop-color="#0074ff"/><stop offset="0.3353" stop-color="#0070ff"/><stop offset="0.4192" stop-color="#006fff"/><stop offset="0.5030" stop-color="#006fff"/><stop offset="0.5868" stop-color="#007dff"/><stop offset="0.6707" stop-color="#008cff"/><stop offset="0.7545" stop-color="#00baff"/><stop offset="0.8383" stop-color="#00e7ff"/><stop offset="0.9222" stop-color="#00ffef"/><stop offset="1.0000" stop-color="#00ffc9"/></linearGradient><linearGradient id="r57"><stop offset="0.0000" stop-color="#007dff"/><stop offset="0.0838" stop-color="#007bff"/><stop offset="0.1677" stop-color="#0079ff"/><stop offset="0.2515" stop-color="#0075ff"/><stop offset="0.3353" stop-color="#0072ff"/><stop offset="0.4192" stop-color="#0071ff"/><stop offset="0.5030" stop-color="#0070ff"/><stop offset="0.5868" stop-color="#0080ff"/><stop offset="0.6707" stop-color="#0090ff"/><stop offset="0.7545" stop-color="#00beff"/><stop offset="0.8383" stop-color="#00ebff"/><stop offset="0.9222" stop-color="#00ffeb"/><stop offset="1.0000" stop-color="#00ffc6"/></linearGradient><linearGradient id="r58"><stop offset="0.0000" stop-color="#007eff"/><stop offset="0.0838" stop-color="#007bff"/><stop offset="0.1677" stop-color="#0079ff"/><stop offset="0.2515" stop-color="#0076ff"/><stop offset="0.3353" stop-color="#0073ff"/><stop offset="0.4192" stop-color="#0072ff"/><stop offset="0.5030" stop-color="#0072ff"/><stop offset="0.5868" stop-color="#0082ff"/><stop offset="0.6707" stop-color="#0094ff"/><stop offset="0.7545" stop-color="#00c1ff"/><stop offset="0.8383" stop-color="#00efff"/><stop offset="0.9222" stop-color="#00ffe8"/><stop offset="1.0000" stop-color="#00ffc4"/></linearGradient><linearGradient id="r59"><stop offset="0.0000" stop-color="#007eff"/><stop offset="0.0838" stop-color="#007cff"/><stop offset="0.1677" stop-color="#007aff"/><stop offset="0.2515" stop-color="#0077ff"/><stop offset="0.3353" stop-color="#0074ff"/><stop offset="0.4192" stop-color="#0074ff"/><stop offset="0.5030" stop-color="#0074ff"/><stop offset="0.5868" stop-color="#0085ff"/><stop offset="0.6707" stop-color="#0097ff"/><stop offset="0.7545" stop-color="#00c5ff"/><stop offset="0.8383" stop-color="#00f3ff"/><stop offset="0.9222" stop-color="#00ffe5"/><stop offset="1.0000" stop-color="#00ffc2"/></linearGradient><linearGradient id="r60"><stop offset="0.0000" stop-color="#007eff"/><stop offset="0.0838" stop-color="#007cff"/><stop offset="0.1677" stop-color="#007aff"/><stop offset="0.2515" stop-color="#0077ff"/><stop offset="0.3353" stop-color="#0075ff"/><stop offset="0.4192" stop-color="#0075ff"/><stop offset="0.5030" stop-color="#0076ff"/><stop offset="0.5868" stop-color="#0088ff"/><stop offset="0.6707" stop-color="#009bff"/><stop offset="0.7545" stop-color="#00c9ff"/><stop offset="0.8383" stop-color="#00f7ff"/><stop offset="0.9222" stop-color="#00ffe2"/><stop offset="1.0000" stop-color="#00ffbf"/></linearGradient><linearGradient id="r61"><stop offset="0.0000" stop-color="#007fff"/><stop offset="0.0838" stop-color="#007dff"/><stop offset="0.1677" stop-color="#007bff"/><stop offset="0.2515" stop-color="#0078ff"/><stop offset="0.3353" stop-color="#0076ff"/><stop offset="0.4192" stop-color="#0077ff"/><stop offset="0.5030" stop-color="#0078ff"/><stop offset="0.5868" stop-color="#008bff"/><stop offset="0.6707" stop-color="#009eff"/><stop offset="0.7545" stop-color="#00cdff"/><stop offset="0.8383" stop-color="#00fbff"/><stop offset="0.9222" stop-color="#00ffdf"/><stop offset="1.0000" stop-color="#00ffbd"/></linearGradient><linearGradient id="r62"><stop offset="0.0000" stop-color="#007fff"/><stop offset="0.0838" stop-color="#007dff"/><stop offset="0.1677" stop-color="#007bff"/><stop offset="0.2515" stop-color="#0079ff"/><stop offset="0.3353" stop-color="#0077ff"/><stop offset="0.4192" stop-color="#0078ff"/><stop offset="0.5030" stop-color="#007aff"/><stop offset="0.5868" stop-color="#008dff"/><stop offset="0.6707" stop-color="#00a2ff"/><stop offset="0.7545" stop-color="#00d1ff"/><stop offset="0.8383" stop-color="#00ffff"/><stop offset="0.9222" stop-color="#00ffdc"/><stop offset="1.0000" stop-color="#00ffbb"/></linearGradient><linearGradient id="r63"><stop offset="0.0000" stop-color="#0080ff"/><stop offset="0.0838" stop-color="#007eff"/><stop offset="0.1677" stop-color="#007cff"/><stop offset="0.2515" stop-color="#007aff"/><stop offset="0.3353" stop-color="#0078ff"/><stop offset="0.4192" stop-color="#007aff"/><stop offset="0.5030" stop-color="#007cff"/><stop offset="0.5868" stop-color="#0090ff"/><stop offset="0.6707" stop-color="#00a6ff"/><stop offset="0.7545" stop-color="#00d5ff"/><stop offset="0.8383" stop-color="#00fffc"/><stop offset="0.9222" stop-color="#00ffd9"/><stop offset="1.0000" stop-color="#00ffb8"/></linearGradient><linearGradient id="r64"><stop offset="0.0000" stop-color="#0080ff"/><stop offset="0.0838" stop-color="#007eff"/><stop offset="0.1677" stop-color="#007cff"/><stop offset="0.2515" stop-color="#007bff"/><stop offset="0.3353" stop-color="#0079ff"/><stop offset="0.4192" stop-color="#007bff"/><stop offset="0.5030" stop-color="#007dff"/><stop offset="0.5868" stop-color="#0093ff"/><stop offset="0.6707" stop-color="#00a9ff"/><stop offset="0.7545" stop-color="#00d8ff"/><stop offset="0.8383" stop-color="#00fff8"/><stop offset="0.9222" stop-color="#00ffd6"/><stop offset="1.0000" stop-color="#00ffb6"/></linearGradient><linearGradient id="r65"><stop offset="0.0000" stop-color="#0080ff"/><stop offset="0.0838" stop-color="#007fff"/><stop offset="0.1677" stop-color="#007dff"/><stop offset="0.2515" stop-color="#007cff"/><stop offset="0.3353" stop-color="#007aff"/><stop offset="0.4192" stop-color="#007cff"/><stop offset="0.5030" stop-color="#007fff"/><stop offset="0.5868" stop-color="#0096ff"/><stop offset="0.6707" stop-color="#00adff"/><stop offset="0.7545" stop-color="#00dcff"/><stop offset="0.8383" stop-color="#00fff4"/><stop offset="0.9222" stop-color="#00ffd2"/><stop offset="1.0000" stop-color="#00ffb4"/></linearGradient><linearGradient id="r66"><stop offset="0.0000" stop-color="#0081ff"/><stop offset="0.0838" stop-color="#007fff"/><stop offset="0.1677" stop-color="#007dff"/><stop offset="0.2515" stop-color="#007cff"/><stop offset="0.3353" stop-color="#007bff"/><stop offset="0.4192" stop-color="#007eff"/><stop offset="0.5030" stop-color="#0081ff"/><stop offset="0.5868" stop-color="#0099ff"/><stop offset="0.6707" stop-color="#00b1ff"/><stop offset="0.7545" stop-color="#00e0ff"/><stop offset="0.8383" stop-color="#00fff0"/><stop offset="0.9222" stop-color="#00ffcf"/><stop offset="1.0000" stop-color="#00ffb1"/></linearGradient><linearGradient id="r67"><stop offset="0.0000" stop-color="#0081ff"/><stop offset="0.0838" stop-color="#0080ff"/><stop offset="0.1677" stop-color="#007eff"/><stop offset="0.2515" stop-color="#007dff"/><stop offset="0.3353" stop-color="#007dff"/><stop offset="0.4192" stop-color="#007fff"/><stop offset="0.5030" stop-color="#0083ff"/><stop offset="0.5868" stop-color="#009bff"/><stop offset="0.6707" stop-color="#00b4ff"/><stop offset="0.7545" stop-color="#00e4ff"/><stop offset="0.8383" stop-color="#00ffec"/><stop offset="0.9222" stop-color="#00ffcc"/><stop offset="1.0000" stop-color="#00ffaf"/></linearGradient><linearGradient id="r68"><stop offset="0.0000" stop-color="#0081ff"/><stop offset="0.0838" stop-color="#0080ff"/><stop offset="0.1677" stop-color="#007fff"/><stop offset="0.2515" stop-color="#007eff"/><stop offset="0.3353" stop-color="#007eff"/><stop offset="0.4192" stop-color="#0081ff"/><stop offset="0.5030" stop-color="#0085ff"/><stop offset="0.5868" stop-color="#009eff"/><stop offset="0.6707" stop-color="#00b8ff"/><stop offset="0.7545" stop-color="#00e8ff"/><stop offset="0.8383" stop-color="#00ffe8"/><stop offset="0.9222" stop-color="#00ffc9"/><stop offset="1.0000" stop-color="#00ffac"/></linearGradient><linearGradient id="r69"><stop offset="0.0000" stop-color="#0082ff"/><stop offset="0.0838" stop-color="#0080ff"/><stop offset="0.1677" stop-color="#007fff"/><stop offset="0.2515" stop-color="#007fff"/><stop offset="0.3353" stop-color="#007fff"/><stop offset="0.4192" stop-color="#0082ff"/><stop offset="0.5030" stop-color="#0087ff"/><stop offset="0.5868" stop-color="#00a1ff"/><stop offset="0.6707" stop-color="#00bcff"/><stop offset="0.7545" stop-color="#00ecff"/><stop offset="0.8383" stop-color="#00ffe4"/><stop offset="0.9222" stop-color="#00ffc6"/><stop offset="1.0000" stop-color="#00ffaa"/></linearGradient><linearGradient id="r70"><stop offset="0.0000" stop-color="#0082ff"/><stop offset="0.0838" stop-color="#0081ff"/><stop offset="0.1677" stop-color="#0080ff"/><stop offset="0.2515" stop-color="#0080ff"/><stop offset="0.3353" stop-color="#0080ff"/><stop offset="0.4192" stop-color="#0084ff"/><stop offset="0.5030" stop-color="#0089ff"/><stop offset="0.5868" stop-color="#00a4ff"/><stop offset="0.6707" stop-color="#00c0ff"/><stop offset="0.7545" stop-color="#00efff"/><stop offset="0.8383" stop-color="#00ffe0"/><stop offset="0.9222" stop-color="#00ffc3"/><stop offset="1.0000" stop-color="#00ffa8"/></linearGradient><linearGradient id="r71"><stop offset="0.0000" stop-color="#0083ff"/><stop offset="0.0838" stop-color="#0082ff"/><stop offset="0.1677" stop-color="#0081ff"/><stop offset="0.2515" stop-color="#0081ff"/><stop offset="0.3353" stop-color="#0081ff"/><stop offset="0.4192" stop-color="#0085ff"/><stop offset="0.5030" stop-color="#008bff"/><stop offset="0.5868" stop-color="#00a7ff"/><stop offset="0.6707" stop-color="#00c4ff"/><stop offset="0.7545" stop-color="#00f3ff"/><stop offset="0.8383" stop-color="#00ffdc"/><stop offset="0.9222" stop-color="#00ffc0"/><stop offset="1.0000" stop-color="#00ffa6"/></linearGradient><linearGradient id="r72"><stop offset="0.0000" stop-color="#0084ff"/><stop offset="0.0838" stop-color="#0083ff"/><stop offset="0.1677" stop-color="#0082ff"/><stop offset="0.2515" stop-color="#0082ff"/><stop offset="0.3353" stop-color="#0082ff"/><stop offset="0.4192" stop-color="#0087ff"/><stop offset="0.5030" stop-color="#008dff"/><stop offset="0.5868" stop-color="#00aaff"/><stop offset="0.6707" stop-color="#00c8ff"/><stop offset="0.7545" stop-color="#00f7ff"/><stop offset="0.8383" stop-color="#00ffd9"/><stop offset="0.9222" stop-color="#00ffbd"/><stop offset="1.0000" stop-color="#00ffa4"/></linearGradient><linearGradient id="r73"><stop offset="0.0000" stop-color="#0084ff"/><stop offset="0.0838" stop-color="#0083ff"/><stop offset="0.1677" stop-color="#0082ff"/><stop offset="0.2515" stop-color="#0083ff"/><stop offset="0.3353" stop-color="#0083ff"/><stop offset="0.4192" stop-color="#0089ff"/><stop offset="0.5030" stop-color="#008fff"/><stop offset="0.5868" stop-color="#00adff"/><stop offset="0.6707" stop-color="#00cdff"/><stop offset="0.7545" stop-color="#00fbff"/><stop offset="0.8383" stop-color="#00ffd5"/><stop offset="0.9222" stop-color="#00ffbb"/><stop offset="1.0000" stop-color="#00ffa2"/></linearGradient><linearGradient id="r74"><stop offset="0.0000" stop-color="#0085ff"/><stop offset="0.0838" stop-color="#0084ff"/><stop offset="0.1677" stop-color="#0083ff"/><stop offset="0.2515" stop-color="#0084ff"/><stop offset="0.3353" stop-color="#0084ff"/><stop offset="0.4192" stop-color="#008aff"/><stop offset="0.5030" stop-color="#0091ff"/><stop offset="0.5868" stop-color="#00b1ff"/><stop offset="0.6707" stop-color="#00d1ff"/><stop offset="0.7545" stop-color="#00ffff"/><stop offset="0.8383" stop-color="#00ffd2"/><stop offset="0.9222" stop-color="#00ffb8"/><stop offset="1.0000" stop-color="#00ffa0"/></linearGradient><linearGradient id="r75"><stop offset="0.0000" stop-color="#0086ff"/><stop offset="0.0838" stop-color="#0085ff"/><stop offset="0.1677" stop-color="#0084ff"/><stop offset="0.2515" stop-color="#0085ff"/><stop offset="0.3353" stop-color="#0085ff"/><stop offset="0.4192" stop-color="#008cff"/><stop offset="0.5030" stop-color="#0093ff"/><stop offset="0.5868" stop-color="#00b4ff"/><stop offset="0.6707" stop-color="#00d5ff"/><stop offset="0.7545" stop-color="#00fffb"/><stop offset="0.8383" stop-color="#00ffce"/><stop offset="0.9222" stop-color="#00ffb5"/><stop offset="1.0000" stop-color="#00ff9e"/></linearGradient><linearGradient id="r76"><stop offset="0.0000" stop-color="#0087ff"/><stop offset="0.0838" stop-color="#0086ff"/><stop offset="0.1677" stop-color="#0085ff"/><stop offset="0.2515" stop-color="#0086ff"/><stop offset="0.3353" stop-color="#0087ff"/><stop offset="0.4192" stop-color="#008dff"/><stop offset="0.5030" stop-color="#0095ff"/><stop offset="0.5868" stop-color="#00b7ff"/><stop offset="0.6707" stop-color="#00daff"/><stop offset="0.7545" stop-color="#00fff7"/><stop offset="0.8383" stop-color="#00ffca"/><stop offset="0.9222" stop-color="#00ffb2"/><stop offset="1.0000" stop-color="#00ff9c"/></linearGradient><linearGradient id="r77"><stop offset="0.0000" stop-color="#0087ff"/><stop offset="0.0838" stop-color="#0087ff"/><stop offset="0.1677" stop-color="#0086ff"/><stop offset="0.2515" stop-color="#0087ff"/><stop offset="0.3353" stop-color="#0088ff"/><stop offset="0.4192" stop-color="#008fff"/><stop offset="0.5030" stop-color="#0097ff"/><stop offset="0.5868" stop-color="#00baff"/><stop offset="0.6707" stop-color="#00deff"/><stop offset="0.7545" stop-color="#00fff3"/><stop offset="0.8383" stop-color="#00ffc7"/><stop offset="0.9222" stop-color="#00ffaf"/><stop offset="1.0000" stop-color="#00ff9a"/></linearGradient><linearGradient id="r78"><stop offset="0.0000" stop-color="#0088ff"/><stop offset="0.0838" stop-color="#0088ff"/><stop offset="0.1677" stop-color="#0087ff"/><stop offset="0.2515" stop-color="#0088ff"/><stop offset="0.3353" stop-color="#0089ff"/><stop offset="0.4192" stop-color="#0090ff"/><stop offset="0.5030" stop-color="#0099ff"/><stop offset="0.5868" stop-color="#00beff"/><stop offset="0.6707" stop-color="#00e2ff"/><stop offset="0.7545" stop-color="#00ffef"/><stop offset="0.8383" stop-color="#00ffc3"/><stop offset="0.9222" stop-color="#00ffad"/><stop offset="1.0000" stop-color="#00ff98"/></linearGradient><linearGradient id="r79"><stop offset="0.0000" stop-color="#0089ff"/><stop offset="0.0838" stop-color="#0088ff"/><stop offset="0.1677" stop-color="#0088ff"/><stop offset="0.2515" stop-color="#0089ff"/><stop offset="0.3353" stop-color="#008aff"/><stop offset="0.4192" stop-color="#0092ff"/><stop offset="0.5030" stop-color="#009bff"/><stop offset="0.5868" stop-color="#00c1ff"/><stop offset="0.6707" stop-color="#00e7ff"/><stop offset="0.7545" stop-color="#00ffeb"/><stop offset="0.8383" stop-color="#00ffc0"/><stop offset="0.9222" stop-color="#00ffaa"/><stop offset="1.0000" stop-color="#00ff96"/></linearGradient><linearGradient id="r80"><stop offset="0.0000" stop-color="#008aff"/><stop offset="0.0838" stop-color="#0089ff"/><stop offset="0.1677" stop-color="#0089ff"/><stop offset="0.2515" stop-color="#008aff"/><stop offset="0.3353" stop-color="#008bff"/><stop offset="0.4192" stop-color="#0093ff"/><stop offset="0.5030" stop-color="#009dff"/><stop offset="0.5868" stop-color="#00c4ff"/><stop offset="0.6707" stop-color="#00ebff"/><stop offset="0.7545" stop-color="#00ffe7"/><stop offset="0.8383" stop-color="#00ffbc"/><stop offset="0.9222" stop-color="#00ffa7"/><stop offset="1.0000" stop-color="#00ff94"/></linearGradient><linearGradient id="r81"><stop offset="0.0000" stop-color="#008aff"/><stop offset="0.0838" stop-color="#008aff"/><stop offset="0.1677" stop-color="#008aff"/><stop offset="0.2515" stop-color="#008bff"/><stop offset="0.3353" stop-color="#008cff"/><stop offset="0.4192" stop-color="#0095ff"/><stop offset="0.5030" stop-color="#009fff"/><stop offset="0.5868" stop-color="#00c7ff"/><stop offset="0.6707" stop-color="#00efff"/><stop offset="0.7545" stop-color="#00ffe3"/><stop offset="0.8383" stop-color="#00ffb9"/><stop offset="0.9222" stop-color="#00ffa4"/><stop offset="1.0000" stop-color="#00ff92"/></linearGradient><linearGradient id="r82"><stop offset="0.0000" stop-color="#008bff"/><stop offset="0.0838" stop-color="#008bff"/><stop offset="0.1677" stop-color="#008bff"/><stop offset="0.2515" stop-color="#008cff"/><stop offset="0.3353" stop-color="#008dff"/><stop offset="0.4192" stop-color="#0097ff"/><stop offset="0.5030" stop-color="#00a1ff"/><stop offset="0.5868" stop-color="#00caff"/><stop offset="0.6707" stop-color="#00f4ff"/><stop offset="0.7545" stop-color="#00ffdf"/><stop offset="0.8383" stop-color="#00ffb5"/><stop offset="0.9222" stop-color="#00ffa2"/><stop offset="1.0000" stop-color="#00ff90"/></linearGradient><linearGradient id="r83"><stop offset="0.0000" stop-color="#008cff"/><stop offset="0.0838" stop-color="#008cff"/><stop offset="0.1677" stop-color="#008cff"/><stop offset="0.2515" stop-color="#008dff"/><stop offset="0.3353" stop-color="#008eff"/><stop offset="0.4192" stop-color="#0098ff"/><stop offset="0.5030" stop-color="#00a3ff"/><stop offset="0.5868" stop-color="#00ceff"/><stop offset="0.6707" stop-color="#00f8ff"/><stop offset="0.7545" stop-color="#00ffdb"/><stop offset="0.8383" stop-color="#00ffb1"/><stop offset="0.9222" stop-color="#00ff9f"/><stop offset="1.0000" stop-color="#00ff8e"/></linearGradient><linearGradient id="r84"><stop offset="0.0000" stop-color="#008cff"/><stop offset="0.0838" stop-color="#008cff"/><stop offset="0.1677" stop-color="#008cff"/><stop offset="0.2515" stop-color="#008dff"/><stop offset="0.3353" stop-color="#008fff"/><stop offset="0.4192" stop-color="#0099ff"/><stop offset="0.5030" stop-color="#00a4ff"/><stop offset="0.5868" stop-color="#00d0ff"/><stop offset="0.6707" stop-color="#00fbff"/><stop offset="0.7545" stop-color="#00ffd8"/><stop offset="0.8383" stop-color="#00ffaf"/><stop offset="0.9222" stop-color="#00ff9d"/><stop offset="1.0000" stop-color="#00ff8d"/></linearGradient><clipPath id="mc"><rect x="171" y="74" width="334" height="337"/></clipPath></defs>
<g shape-rendering="crispEdges">
<rect x="171" y="74" width="334" height="5" fill="url(#r0)"/><rect x="171" y="78" width="334" height="5" fill="url(#r1)"/><rect x="171" y="82" width="334" height="5" fill="url(#r2)"/><rect x="171" y="86" width="334" height="5" fill="url(#r3)"/><rect x="171" y="90" width="334" height="5" fill="url(#r4)"/><rect x="171" y="94" width="334" height="5" fill="url(#r5)"/><rect x="171" y="98" width="334" height="5" fill="url(#r6)"/><rect x="171" y="102" width="334" height="5" fill="url(#r7)"/><rect x="171" y="106" width="334" height="5" fill="url(#r8)"/><rect x="171" y="110" width="334" height="5" fill="url(#r9)"/><rect x="171" y="114" width="334" height="5" fill="url(#r10)"/><rect x="171" y="118" width="334" height="5" fill="url(#r11)"/><rect x="171" y="122" width="334" height="5" fill="url(#r12)"/><rect x="171" y="126" width="334" height="5" fill="url(#r13)"/><rect x="171" y="130" width="334" height="5" fill="url(#r14)"/><rect x="171" y="134" width="334" height="5" fill="url(#r15)"/><rect x="171" y="138" width="334" height="5" fill="url(#r16)"/><rect x="171" y="142" width="334" height="5" fill="url(#r17)"/><rect x="171" y="146" width="334" height="5" fill="url(#r18)"/><rect x="171" y="150" width="334" height="5" fill="url(#r19)"/><rect x="171" y="154" width="334" height="5" fill="url(#r20)"/><rect x="171" y="158" width="334" height="5" fill="url(#r21)"/><rect x="171" y="162" width="334" height="5" fill="url(#r22)"/><rect x="171" y="166" width="334" height="5" fill="url(#r23)"/><rect x="171" y="170" width="334" height="5" fill="url(#r24)"/><rect x="171" y="174" width="334" height="5" fill="url(#r25)"/><rect x="171" y="178" width="334" height="5" fill="url(#r26)"/><rect x="171" y="182" width="334" height="5" fill="url(#r27)"/><rect x="171" y="186" width="334" height="5" fill="url(#r28)"/><rect x="171" y="190" width="334" height="5" fill="url(#r29)"/><rect x="171" y="194" width="334" height="5" fill="url(#r30)"/><rect x="171" y="198" width="334" height="5" fill="url(#r31)"/><rect x="171" y="202" width="334" height="5" fill="url(#r32)"/><rect x="171" y="206" width="334" height="5" fill="url(#r33)"/><rect x="171" y="210" width="334" height="5" fill="url(#r34)"/><rect x="171" y="214" width="334" height="5" fill="url(#r35)"/><rect x="171" y="218" width="334" height="5" fill="url(#r36)"/><rect x="171" y="222" width="334" height="5" fill="url(#r37)"/><rect x="171" y="226" width="334" height="5" fill="url(#r38)"/><rect x="171" y="230" width="334" height="5" fill="url(#r39)"/><rect x="171" y="234" width="334" height="5" fill="url(#r40)"/><rect x="171" y="238" width="334" height="5" fill="url(#r41)"/><rect x="171" y="242" width="334" height="5" fill="url(#r42)"/><rect x="171" y="246" width="334" height="5" fill="url(#r43)"/><rect x="171" y="250" width="334" height="5" fill="url(#r44)"/><rect x="171" y="254" width="334" height="5" fill="url(#r45)"/><rect x="171" y="258" width="334" height="5" fill="url(#r46)"/><rect x="171" y="262" width="334" height="5" fill="url(#r47)"/><rect x="171" y="266" width="334" height="5" fill="url(#r48)"/><rect x="171" y="270" width="334" height="5" fill="url(#r49)"/><rect x="171" y="274" width="334" height="5" fill="url(#r50)"/><rect x="171" y="278" width="334" height="5" fill="url(#r51)"/><rect x="171" y="282" width="334" height="5" fill="url(#r52)"/><rect x="171" y="286" width="334" height="5" fill="url(#r53)"/><rect x="171" y="290" width="334" height="5" fill="url(#r54)"/><rect x="171" y="294" width="334" height="5" fill="url(#r55)"/><rect x="171" y="298" width="334" height="5" fill="url(#r56)"/><rect x="171" y="302" width="334" height="5" fill="url(#r57)"/><rect x="171" y="306" width="334" height="5" fill="url(#r58)"/><rect x="171" y="310" width="334" height="5" fill="url(#r59)"/><rect x="171" y="314" width="334" height="5" fill="url(#r60)"/><rect x="171" y="318" width="334" height="5" fill="url(#r61)"/><rect x="171" y="322" width="334" height="5" fill="url(#r62)"/><rect x="171" y="326" width="334" height="5" fill="url(#r63)"/><rect x="171" y="330" width="334" height="5" fill="url(#r64)"/><rect x="171" y="334" width="334" height="5" fill="url(#r65)"/><rect x="171" y="338" width="334" height="5" fill="url(#r66)"/><rect x="171" y="342" width="334" height="5" fill="url(#r67)"/><rect x="171" y="346" width="334" height="5" fill="url(#r68)"/><rect x="171" y="350" width="334" height="5" fill="url(#r69)"/><rect x="171" y="354" width="334" height="5" fill="url(#r70)"/><rect x="171" y="358" width="334" height="5" fill="url(#r71)"/><rect x="171" y="362" width="334" height="5" fill="url(#r72)"/><rect x="171" y="366" width="334" height="5" fill="url(#r73)"/><rect x="171" y="370" width="334" height="5" fill="url(#r74)"/><rect x="171" y="374" width="334" height="5" fill="url(#r75)"/><rect x="171" y="378" width="334" height="5" fill="url(#r76)"/><rect x="171" y="382" width="334" height="5" fill="url(#r77)"/><rect x="171" y="386" width="334" height="5" fill="url(#r78)"/><rect x="171" y="390" width="334" height="5" fill="url(#r79)"/><rect x="171" y="394" width="334" height="5" fill="url(#r80)"/><rect x="171" y="398" width="334" height="5" fill="url(#r81)"/><rect x="171" y="402" width="334" height="5" fill="url(#r82)"/><rect x="171" y="406" width="334" height="5" fill="url(#r83)"/><rect x="171" y="410" width="334" height="1" fill="url(#r84)"/>
</g>
<g clip-path="url(#mc)" fill="none">
<!-- graticule -->
<g stroke="#000" stroke-width="1" stroke-dasharray="1.7 2.3" shape-rendering="crispEdges">
<path d="M224.5 74 L212.5 411"/><path d="M300 74 L296 411"/><path d="M375.5 74 L379.5 411"/><path d="M451.5 74 L463.5 411"/>
<path d="M184 129.5 Q338 133 505 129.5"/><path d="M171 242 Q338 245.5 505 242"/><path d="M171 354.5 Q338 358 505 354.5"/>
</g>
<path stroke="#d4b2a2" stroke-width="1.0" stroke-opacity=".9" stroke-linejoin="round" stroke-linecap="round" d="M477.2 75.8 L479.3 79.1 L483.5 78.2 L489.3 77.4 L495.2 76.6 L500.2 74.9 L501.8 74.2 M475.2 160.2 L474.2 165.2 L474.9 169.0 L473.6 174.0 L470.5 176.5 L465.5 178.4 L463.0 180.9 L464.2 184.0 M473.6 174.0 L478.0 176.5 L483.0 179.6 L488.0 182.8 L490.5 184.0 M463.0 180.9 L456.8 181.5 L450.5 181.8 L447.4 183.8 M428.0 169.0 L431.1 170.9 L432.4 175.2 L430.5 180.2 L428.0 182.1 M427.0 180.0 L428.0 184.0 M322.5 217.1 L327.5 219.0 L332.5 220.9 L337.5 222.5 M371.9 209.0 L373.8 212.1 L377.5 214.0 L380.0 219.0 L381.5 224.0 M430.2 169.6 L432.1 174.0 L430.9 177.8 L427.8 181.5 L428.4 187.8 L427.8 192.8 L427.1 196.5 L425.9 201.5 L427.8 206.5 L427.1 211.5 L429.6 216.5 L430.9 221.5 L431.5 224.0 M427.8 205.2 L429.2 211.5 L431.5 217.8 L434.2 223.0 M428.4 187.8 L434.0 186.5 L440.2 185.5 L446.5 184.6 L449.0 181.5 L455.2 180.9 L462.8 180.2 L468.0 177.1 M462.8 180.2 L465.2 183.4 L468.0 185.9 M442.8 223.8 L449.0 222.1 L455.2 220.9 L461.5 219.6 L465.2 220.9 L468.0 222.8 M478.0 176.0 L483.0 179.8 L489.2 183.5 L496.8 186.6 L501.8 188.5 L503.6 193.5 L503.0 198.5 L503.6 202.9 L501.8 208.5 L499.2 213.5 L496.1 217.2 L494.9 222.2 L493.0 226.0 L491.1 229.1 L491.8 231.6 L498.0 231.0 L504.5 231.0 M428.0 187.9 L434.2 186.6 L440.5 185.4 L446.8 184.1 L448.6 181.6 L455.5 181.0 L463.0 180.4 L465.5 177.9 L471.1 176.0 M463.0 180.4 L465.5 184.1 L469.2 188.5 L474.2 193.5 L474.5 198.5 L476.1 202.9 L473.6 205.4 L471.1 207.2 L469.9 212.2 L468.6 217.2 L468.2 222.9 L471.1 223.5 L471.8 226.6 L470.5 227.2 M441.1 226.0 L443.0 223.5 L450.5 221.6 L458.0 219.8 L462.4 219.8 L465.5 221.6 L468.2 223.2 L478.0 223.5 L485.5 223.8 L493.0 225.4 L499.2 223.5 L501.8 220.4 L505.0 220.0 M428.0 187.9 L428.6 194.8 M428.0 204.8 L429.2 212.2 L431.8 218.5 L434.2 223.5 L437.4 227.2 L441.1 226.0 M437.4 227.2 L441.8 231.0 L443.6 236.0 M434.2 226.0 L439.2 232.2 L441.1 236.0 M302.5 244.8 L307.5 248.1 L312.5 250.0 L318.8 248.8 L323.8 250.0 L328.8 248.1 L335.0 245.6 L341.2 243.8 M300.0 253.8 L306.2 254.4 L312.5 252.5 L318.8 253.8 L323.1 255.6 L328.8 254.4 L335.0 253.1 L341.2 253.8 M311.2 250.0 L311.9 252.5 M323.8 250.0 L324.4 253.1 L323.1 255.6 L325.0 257.5 L330.0 258.8 M307.5 261.2 L313.8 261.9 L320.0 260.6 L325.0 257.5 L328.8 256.9 L330.0 259.4 L338.8 260.6 M300.0 263.8 L305.0 263.1 L307.5 261.2 M306.2 266.2 L307.5 270.0 M302.0 244.1 L305.8 246.6 L310.8 248.5 L318.2 248.5 L324.5 249.1 L329.5 247.9 L336.0 246.0 M310.8 248.5 L313.2 252.2 L318.2 253.5 L323.2 254.8 L327.0 258.5 L332.0 257.2 L336.0 257.9 M302.0 253.5 L308.2 254.8 L314.5 254.1 L323.2 254.8 M318.2 248.5 L323.9 252.2 L325.1 256.0 L327.0 258.5 M313.9 259.8 L319.5 261.0 L324.5 259.1 L327.0 258.5 M305.8 262.9 L310.8 264.1 M307.0 266.0 L307.6 271.6 M310.8 284.1 L313.2 286.6 L312.0 291.0 L308.2 292.9 L305.8 294.8 L305.1 296.0 M171.0 244.2 L175.5 243.5 L179.2 244.5 L183.0 244.5 M252.0 316.8 L245.5 319.2 L238.0 320.2 L230.5 319.6 L224.9 320.2 L221.8 322.8 L222.0 325.9 L223.6 327.5 L224.9 326.2 M200.8 344.1 L205.5 348.5 L211.8 352.2 L215.5 354.8 L219.2 357.9 L224.2 360.4 L231.8 361.6 L238.0 359.8 L243.0 359.8 L248.0 357.9 L252.0 358.5 M171.0 389.8 L173.0 386.0 L175.5 386.0 L176.8 389.8 L174.2 392.9 L171.0 393.5 M171.0 392.9 L176.8 392.9 L181.8 393.5 L183.0 396.0 M234.2 396.0 L239.2 394.1 L244.2 392.9 L248.0 388.5 L252.0 384.1 M171.8 388.2 L173.6 385.1 L176.1 386.4 L176.8 390.8 L173.6 392.6 L171.8 393.9 L176.8 393.2 L181.1 393.9 L182.4 398.2 L186.8 397.6 L186.1 400.8 L189.9 403.9 L194.2 408.9 L198.0 408.2 L199.2 410.1 L201.8 412.0 L206.8 411.8 L211.8 411.0 M214.9 411.0 L218.0 407.0 L221.8 404.5 L228.0 402.0 L231.8 397.6 L236.8 395.1 L243.0 393.2 L247.4 388.9 L250.5 385.1 L252.0 384.5 M310.1 285.2 L313.2 287.1 L311.4 291.5 L307.0 293.4 L305.1 296.5 L302.0 297.1 L297.6 299.0 L292.0 300.2 L288.9 297.1 L286.4 296.5 L282.0 298.4 L277.0 300.9 L273.2 304.6 L268.2 308.4 L263.9 310.9 L259.5 311.8 M288.9 297.1 L285.8 301.5 L283.2 305.2 L281.4 308.4 L277.0 311.5 L272.6 314.6 L270.8 318.4 L272.0 322.1 L274.5 326.5 M274.5 327.1 L278.9 329.6 L280.8 331.5 L278.2 335.2 L275.8 337.8 L270.8 339.0 L268.2 342.1 L267.0 344.0 M252.0 317.1 L254.5 313.4 M336.0 329.0 L333.2 330.9 L332.6 335.2 L334.5 339.6 L336.0 342.8 M277.0 336.0 L274.5 337.9 L269.5 339.1 L267.0 343.5 L263.9 347.9 L264.5 352.2 L265.8 356.0 M252.0 360.4 L253.2 365.4 L257.0 369.1 L260.8 370.4 L264.5 366.6 L268.9 362.2 L272.6 361.6 M252.0 384.1 L253.9 381.0 L258.2 379.8 L264.5 377.9 L269.5 376.0 L271.4 372.9 L270.8 369.1 L273.9 365.4 L277.0 362.2 L280.1 359.8 L282.6 362.2 L288.2 361.6 L294.5 360.4 L300.1 359.1 L302.0 357.5 M332.0 344.8 L329.5 349.8 L326.4 354.8 L323.9 359.1 L327.0 363.5 L327.6 367.2 L325.1 369.5 L328.2 371.6 L332.0 373.5 L334.5 371.6 M252.0 389.1 L258.2 389.1 L264.5 390.4 L270.8 391.6 L274.5 389.8 L280.8 390.4 L287.0 391.0 L292.0 389.1 L297.6 388.5 L300.8 385.4 L305.8 382.9 L310.8 384.1 L317.0 384.8 L323.2 386.0 L325.8 391.0 L328.2 394.8 L332.0 396.0 M268.2 411.0 L272.0 409.5 L277.0 407.2 L283.2 407.0 L289.5 408.2 L294.5 409.5 L300.8 409.2 L304.5 411.0 M325.8 391.0 L328.2 394.5 L332.0 398.2 L331.4 403.2 L334.5 408.2 L336.0 411.0 M386.0 272.0 L384.1 278.2 L379.1 283.9 L374.8 289.5 L371.6 291.4 L369.8 297.0 L367.9 302.0 L366.0 307.0 L366.6 313.2 L365.4 318.2 L361.0 321.4 L356.0 324.5 L349.8 327.0 L343.5 328.2 L338.5 330.1 L336.0 330.8 M406.0 272.0 L407.9 275.8 L404.8 279.5 L407.2 283.2 L407.2 287.0 L411.0 290.8 L413.5 295.1 L416.0 298.2 L418.5 303.2 L420.0 308.2 M406.0 273.9 L412.2 272.6 M381.6 224.0 L382.9 227.8 L386.0 232.1 L386.6 236.5 L384.1 240.2 L381.0 243.4 L377.9 244.6 M336.0 245.2 L341.0 243.4 L344.8 245.2 L348.5 246.5 L352.2 245.2 L357.9 244.0 L362.2 247.1 L367.2 246.5 L372.2 245.2 L376.0 244.6 L377.9 247.1 L379.8 250.2 L382.2 252.1 M336.0 253.4 L342.2 254.6 L348.5 254.0 L353.5 253.4 L354.8 250.9 L359.1 249.6 L365.4 249.6 L369.8 250.9 L374.8 250.9 L379.8 250.9 M336.0 260.2 L339.8 259.6 L343.5 257.8 L348.5 257.8 L352.2 257.1 L353.5 254.0 L358.5 253.4 L362.9 253.4 L366.0 255.2 L369.8 257.1 L373.5 257.8 L376.0 260.2 L377.9 264.0 L379.8 267.1 L383.5 270.2 L385.4 274.0 L384.1 279.0 L381.6 282.1 L379.8 284.0 M382.2 252.1 L387.2 253.4 L391.0 255.9 L394.8 259.6 L398.5 262.8 L402.2 264.6 L404.1 268.4 L406.6 272.1 L407.9 275.2 L407.2 278.4 L404.8 279.6 L407.2 282.1 L407.9 284.0 M407.9 275.2 L412.2 272.1 L417.2 270.9 L420.0 270.5 M427.8 212.0 L430.2 217.0 L433.4 222.6 L436.5 226.4 L441.5 227.0 L442.1 224.5 L446.5 223.2 L452.8 221.4 L459.0 219.5 L464.0 220.1 L468.0 223.2 M431.5 219.5 L435.2 225.8 L439.0 230.8 L442.1 234.5 L440.2 237.0 L443.4 240.1 L445.2 241.4 M441.5 227.0 L445.2 230.8 L445.9 237.0 L445.2 241.4 L449.0 243.2 L454.0 244.5 L460.2 245.1 L468.0 245.1 M445.2 241.4 L444.6 248.2 L440.2 250.1 L435.2 252.6 L434.6 255.8 L435.2 259.5 L432.1 263.2 L429.0 267.0 L422.8 268.9 L417.8 270.8 L413.4 271.8 M435.5 228.0 L439.2 231.1 L441.8 234.9 L440.5 237.4 L444.2 240.5 L445.5 241.1 M443.0 228.0 L444.9 231.8 L445.5 235.5 L445.2 241.1 M445.2 241.1 L450.5 243.6 L456.8 244.9 L463.0 244.2 L468.0 246.1 L470.5 249.9 L473.0 253.0 L476.8 254.2 L480.5 251.8 L485.5 250.2 M445.2 241.1 L444.2 248.0 L440.5 250.5 L435.5 252.4 L434.2 256.8 L434.9 260.5 L431.8 264.9 L429.2 267.4 L428.0 267.8 M491.8 229.9 L493.0 228.6 L494.2 231.1 L491.1 231.8 L491.8 229.9 M494.2 231.1 L499.2 231.5 L505.0 232.4 M420.0 308.2 L422.8 313.2 L426.5 317.6 L429.0 322.0 L432.8 327.0 L436.5 330.1 L439.0 332.0 M428.4 320.0 L431.5 325.0 L435.2 329.4 L439.0 331.9 L444.0 333.1 L444.6 337.5 L445.2 341.9 L449.0 346.2 L452.1 351.2 L455.9 356.2 L460.2 356.2 L465.2 355.0 L468.0 353.1 M444.0 334.4 L440.2 337.5 L439.0 341.9 L434.0 345.0 L429.0 346.9 L427.1 350.6 L425.9 354.4 L422.8 357.5 L420.2 360.0 L416.5 363.8 L414.0 366.9 L409.0 368.1 L405.2 371.2 L400.9 372.5 L397.8 375.0 L395.2 378.8 M362.2 320.0 L357.2 323.8 L351.0 326.2 L344.8 328.1 L338.5 329.4 L336.0 330.0 M336.0 374.4 L339.8 376.9 L342.2 380.0 M408.5 368.0 L404.8 371.1 L399.8 373.6 L396.6 378.0 L394.8 381.8 L394.1 386.8 L389.8 389.9 L386.6 392.4 L386.6 396.8 L387.9 401.8 L386.6 404.9 L384.1 408.0 L382.2 411.0 M336.0 373.6 L339.8 377.4 L342.9 380.5 L345.4 385.5 L346.0 390.5 L348.5 394.9 L351.0 399.2 L354.1 403.6 L355.4 408.0 L356.0 411.0 M481.2 368.0 L477.5 371.1 L478.1 374.9 L480.0 379.2 L481.9 384.2 L483.8 388.0 L483.1 393.0 L480.0 396.8 L478.1 400.5 L477.5 405.5 L475.6 409.9 L474.4 411.8 M481.9 384.2 L487.5 384.9 L491.2 388.0 L496.2 389.2 L500.0 386.8 L504.0 386.1 M468.0 353.1 L471.8 353.6 L474.2 356.1 L479.2 355.5 L481.8 351.8 L483.6 349.2 L488.0 349.9 L490.5 348.0 L495.5 347.4 L499.2 348.0 L501.8 351.1 L504.5 353.0 M474.2 356.1 L476.1 359.2 L476.8 363.0 L479.2 366.1 L481.1 364.9"/>
<path stroke="#000" stroke-width="2.1" stroke-linejoin="round" stroke-linecap="round" d="M475.6 74.2 L476.0 78.7 L476.8 82.8 L478.5 87.0 L481.0 89.9 L483.5 92.8 L486.4 95.8 L489.3 98.2 L491.0 100.3 L491.4 102.8 L489.8 105.3 L487.2 106.2 L485.2 105.8 M476.8 82.8 L477.7 88.7 L478.9 92.8 L479.8 94.7 M467.7 88.2 L471.0 87.0 L474.8 87.4 L476.0 89.5 L473.9 91.6 L470.2 92.0 L467.7 90.8 L467.7 88.2 M474.8 98.8 L476.8 97.8 L479.8 98.7 L480.2 101.2 L478.1 102.8 L475.6 102.0 L474.8 98.8 M483.5 98.8 L486.0 98.2 L488.1 100.8 L487.0 103.7 L484.8 104.5 L483.9 102.0 L483.5 98.8 M475.2 93.8 L477.7 94.2 L481.0 97.0 L483.5 98.8 M485.2 105.8 L481.0 107.0 L476.8 107.8 L475.2 109.5 L474.8 112.0 M484.3 79.1 L489.3 79.2 L494.3 80.3 L497.7 82.0 L500.2 84.5 L502.7 83.7 L504.8 82.0 L505.3 80.3 M483.0 107.2 L478.0 107.9 L475.5 110.1 L475.5 113.0 L478.0 114.5 L481.1 113.2 L484.2 113.9 L489.2 111.8 M489.2 111.8 L487.4 115.1 L484.9 117.6 L485.5 121.4 L489.2 121.4 L492.0 123.5 L492.4 127.0 L489.9 127.9 L486.8 127.0 L486.1 128.9 L488.0 131.0 M480.2 120.5 L479.5 123.9 L479.2 127.0 M488.0 131.0 L489.2 134.2 L493.0 136.1 L498.0 136.2 L505.0 136.5 M505.0 138.2 L498.0 137.2 L490.5 138.8 L483.0 138.0 L478.6 135.9 L476.1 138.0 L475.2 142.8 L474.9 149.0 L476.1 155.2 L475.2 160.2 M428.0 147.1 L435.5 147.8 L444.2 146.0 L453.0 145.2 L454.9 148.4 L456.1 152.1 L459.9 154.6 L461.1 157.1 L457.8 157.8 L457.0 159.6 L460.5 161.5 L463.0 163.8 L466.8 163.4 L467.8 160.2 L467.0 157.1 L465.5 155.2 L465.0 153.0 L467.8 151.8 L471.1 153.4 L473.6 155.2 L475.8 155.5 M392.8 152.8 L397.8 154.6 L402.8 157.1 M410.2 153.0 L412.1 149.6 L419.0 147.8 L425.9 146.2 M410.2 153.0 L405.2 158.0 L409.0 160.9 L412.1 166.5 L415.9 170.0 L419.0 171.2 L424.0 170.9 L428.0 167.8 M425.9 146.2 L422.1 149.6 L419.0 154.6 L420.2 157.1 L418.0 160.2 L417.8 165.2 L419.0 171.2 M344.0 183.8 L349.0 182.8 L352.8 181.2 L354.0 177.8 L359.0 171.5 L366.5 167.1 L375.2 164.0 L382.8 163.4 L394.0 162.8 L404.0 160.2 L406.5 159.0 M383.4 164.0 L383.4 168.4 L387.1 168.8 L387.8 164.6 M419.2 170.0 L422.8 170.0 L422.8 172.8 L419.2 172.8 L419.2 170.0 M342.5 170.9 L337.5 172.1 L333.8 175.9 L330.0 180.2 L326.9 184.0 M335.0 176.5 L333.8 184.0 M342.5 170.0 L337.5 171.8 L332.8 176.5 L326.5 184.0 L326.5 187.5 L330.0 186.5 L333.5 181.5 L334.8 178.0 M326.5 187.5 L325.6 195.2 L324.4 201.5 L322.5 209.0 L320.6 216.5 L318.8 224.0 M326.9 187.8 L330.0 190.2 L333.1 194.0 L336.2 192.1 L341.2 189.0 L346.2 185.2 L352.5 182.8 L353.8 177.8 L356.2 174.6 L361.2 171.5 L366.2 169.0 L372.5 166.5 L380.0 165.2 L384.0 164.6 M353.1 182.8 L353.1 187.8 L354.4 191.5 L352.2 194.0 L355.0 195.9 L360.0 197.1 L363.8 196.8 L365.0 199.0 L363.1 201.5 L362.5 205.2 L363.8 207.8 L367.5 209.6 L371.9 209.0 M333.1 194.0 L338.8 192.1 L341.9 194.6 L343.1 199.6 L345.0 201.5 L349.4 202.1 L350.0 205.2 L346.9 207.1 L344.4 207.8 L340.0 207.8 L340.0 210.9 L341.9 214.0 L343.1 217.1 L340.0 218.4 L340.6 220.2 L343.8 219.0 L347.5 217.8 L352.5 215.2 L356.9 212.1 L360.0 210.9 L367.5 210.5 L371.9 210.9 L372.5 214.0 L370.0 217.8 L368.1 220.9 L362.5 222.8 L360.0 224.0 M349.4 204.0 L352.5 206.5 L356.2 210.2 L357.8 211.8 M343.8 219.0 L342.5 222.8 L343.1 224.0 M355.0 193.8 L360.0 194.2 L365.0 193.0 M368.1 193.5 L371.5 193.5 M327.8 212.1 L330.0 214.0 L333.1 214.6 M412.1 164.0 L414.0 167.8 L418.4 170.2 L424.0 169.6 L429.2 169.0 M419.9 169.2 L424.0 169.2 L424.0 172.2 L419.9 172.2 L419.9 169.2 M425.2 170.2 L425.0 175.2 L424.2 180.2 L425.2 186.5 L422.8 191.5 L420.2 194.6 L419.0 199.0 L418.4 204.0 L417.5 207.1 L412.8 207.1 L407.1 207.1 L405.5 209.6 L405.0 213.4 L407.1 216.5 L412.8 217.1 L417.8 218.4 L419.6 220.9 L420.2 224.0 M318.8 220.0 L316.9 226.2 L313.8 232.5 L309.4 238.1 L305.0 242.5 L301.9 244.8 L300.0 245.0 M343.1 220.0 L341.2 222.5 L343.8 223.8 L349.4 225.6 L353.8 228.1 L356.2 229.4 L360.0 226.9 M338.8 220.0 L340.0 222.5 L341.9 223.1 M319.4 232.0 L323.1 231.2 M325.0 230.8 L328.1 228.8 M313.8 275.0 L316.2 273.1 L320.0 275.0 L325.0 274.4 L326.9 271.9 L330.6 272.5 L332.5 276.2 L336.2 276.9 L338.1 273.8 L341.2 273.1 L342.5 276.2 L341.9 280.0 M310.8 236.0 L305.8 241.0 L302.0 244.1 L299.5 244.8 L299.2 249.8 L298.2 252.2 M298.2 252.2 L293.2 254.1 L292.0 257.2 L287.0 258.5 L285.1 260.4 L287.6 262.2 L292.0 261.0 L295.8 262.9 L300.8 264.1 L305.8 262.9 L310.8 261.6 L313.9 259.8 L310.8 257.9 L305.8 256.6 L302.0 254.8 L299.2 252.2 M293.2 257.2 L299.5 259.1 L304.5 260.4 L309.5 259.8 M282.0 266.0 L278.2 267.2 L275.1 269.8 L277.0 272.2 L280.8 273.5 L284.5 272.2 L288.2 270.4 L293.2 269.8 L297.0 268.8 L294.5 266.6 L289.5 266.0 L284.5 265.4 L282.0 266.0 M284.5 267.9 L293.2 267.9 M297.0 268.8 L302.0 270.4 L307.0 271.6 L309.5 273.5 L307.0 276.0 L302.0 275.4 L299.5 273.5 L295.8 272.9 L292.0 274.8 L288.2 276.0 L284.5 274.8 L280.8 273.5 M280.8 276.0 L275.8 277.9 L272.6 280.4 L272.0 283.5 L274.5 285.4 L278.2 284.8 L280.8 282.9 L285.8 283.5 L288.2 286.0 L290.8 287.2 L295.8 286.6 L299.5 284.8 L303.2 282.9 L307.0 281.0 L308.2 278.5 L305.8 276.6 L302.0 277.2 L297.0 277.9 L293.2 279.8 L289.5 279.1 L285.8 277.2 L280.8 276.0 M252.0 286.6 L257.0 283.5 L263.2 280.4 L269.5 278.5 L275.8 277.9 M308.2 278.5 L310.8 281.0 L310.1 284.1 M307.0 281.0 L312.0 277.9 L314.5 273.5 L318.2 272.9 L320.8 274.8 L324.5 273.5 L327.0 271.6 L330.8 272.2 L332.0 275.4 L336.0 276.0 M171.0 188.1 L178.0 187.8 L184.2 188.5 L191.8 190.0 L196.8 192.5 L201.8 196.2 L206.8 199.4 L208.6 203.1 L209.2 208.8 L210.2 215.0 L208.6 221.2 L204.2 226.9 L203.6 232.5 L201.1 238.1 L196.8 240.0 M204.9 232.0 L202.4 237.0 L198.0 239.5 L194.9 243.2 L191.8 246.4 L188.0 247.6 L186.8 249.5 L188.6 250.8 L188.0 253.2 L184.2 255.1 L180.5 254.5 L176.8 253.2 L173.6 255.1 L171.0 256.4 M176.8 253.9 L176.1 259.5 L173.6 261.4 L171.0 262.0 M176.1 262.0 L173.0 265.8 L171.0 267.0 M183.0 244.5 L188.0 243.5 L191.1 243.9 M171.0 273.9 L173.6 277.0 L176.8 278.9 L180.5 277.6 L185.5 277.0 L190.5 276.8 L194.9 276.8 L194.5 280.1 L192.4 282.6 L193.6 287.0 L192.4 290.1 L190.5 292.0 M242.4 292.0 L246.8 289.5 L252.0 287.6 M193.6 284.0 L193.0 289.0 L189.2 292.1 L183.0 293.4 L178.0 295.2 L174.9 297.8 L174.2 301.5 L171.0 303.0 M252.0 287.8 L245.5 290.9 L238.0 294.6 L230.5 296.5 L223.0 297.8 L215.5 299.0 L208.0 300.2 L203.0 302.8 L199.2 305.9 L198.6 309.0 L198.0 314.0 L197.4 321.5 L198.0 326.5 L197.0 331.5 L198.0 334.0 L195.8 336.5 L196.1 339.6 L200.5 342.1 L198.0 343.4 L194.2 344.0 M238.0 294.6 L239.2 299.0 L241.1 302.8 L240.5 307.8 L243.0 310.2 L246.8 312.8 L252.0 315.2 M195.8 336.0 L196.8 339.8 L200.5 342.2 L200.8 344.1 L198.0 342.9 L194.2 344.1 L193.0 348.5 L189.2 351.6 L184.2 354.8 L179.2 357.9 L174.2 359.1 L171.0 359.1 M252.0 315.2 L254.5 312.8 L259.5 311.5 L263.2 312.8 L265.1 316.5 L267.6 320.2 L268.2 324.6 L270.8 327.8 L274.5 327.1 L277.0 327.8 L282.0 329.0 L283.9 332.1 L283.2 335.9 L285.1 338.4 L287.6 335.9 L292.0 336.5 L294.5 337.8 L298.2 335.9 L300.8 337.8 L303.2 340.9 L305.8 342.1 L307.0 344.0 M283.9 336.0 L285.1 338.5 L289.5 336.6 L294.5 337.9 L298.9 336.0 L302.0 339.8 L305.8 341.6 L304.5 344.8 L303.2 347.9 L305.8 351.0 L303.9 354.8 L302.0 357.2 L307.0 357.9 L312.0 358.5 L316.4 359.8 L320.1 357.2 L324.5 356.0 L325.8 352.2 L328.9 348.5 L332.0 346.6 M332.0 347.9 L330.8 353.5 L331.4 358.5 L332.0 363.5 L332.0 367.9 L336.0 367.9 M336.0 277.0 L339.1 273.9 L341.0 276.4 L342.9 280.1 L346.6 282.0 L347.9 284.5 L353.5 284.5 L358.5 283.9 L361.6 287.6 L366.0 288.9 L369.1 288.2 L371.6 291.4 L369.8 295.1 L368.5 299.5 L367.9 303.2 L364.8 307.0 L364.1 309.5 L366.6 312.0 L371.0 313.2 L376.0 312.6 L379.1 311.4 L378.5 308.2 L381.6 307.0 L381.6 303.9 L379.8 301.4 L376.0 300.8 L372.9 298.2 L374.1 296.4 L378.5 294.5 L382.2 292.6 L384.8 289.5 L381.6 288.2 L384.1 284.5 L386.6 280.1 L387.2 275.8 L386.6 272.0 M379.1 312.0 L379.1 315.1 L383.5 316.4 L386.0 320.1 L389.8 321.4 L388.5 323.9 L386.6 325.1 L388.5 327.0 L392.2 328.2 L394.1 332.0 M420.0 229.6 L416.0 231.5 L411.0 235.2 L407.2 237.1 L404.8 240.2 L408.5 241.5 L411.6 243.4 L410.4 247.1 L406.0 248.4 L401.0 249.6 L396.0 251.5 L392.2 252.1 L388.5 251.5 L384.8 250.9 L383.5 249.6 L381.0 250.9 L378.5 252.8 L376.0 253.4 L376.6 257.8 L378.5 260.9 L382.2 263.4 L384.1 267.1 L386.0 270.9 L387.2 275.2 L386.6 280.2 L386.0 284.0 M336.0 276.5 L339.1 272.8 L341.6 274.0 L342.2 279.0 L344.8 281.5 L347.2 284.0 M420.2 222.6 L419.0 228.2 L416.5 231.4 L412.8 235.1 L408.4 237.6 L405.2 240.8 L409.0 242.6 L410.9 245.1 L408.4 248.2 L402.8 249.5 L397.8 251.4 L393.4 252.0 L389.0 250.8 L384.0 248.9 M394.1 332.0 L394.6 333.8 L393.4 337.5 L390.2 340.0 L386.5 343.1 L384.6 348.8 L385.2 355.0 L387.8 360.0 L391.5 363.8 L396.5 365.6 L400.2 367.5 L400.9 371.2 L399.0 373.8 L396.5 376.9 L394.6 380.0 M387.9 320.0 L386.6 323.8 L388.5 326.9 L392.9 328.8 L394.1 333.1 L394.8 337.5 L391.6 340.0 L387.2 342.5 L385.4 346.2 L384.1 351.2 L384.8 356.2 M385.4 346.2 L382.2 346.9 L379.8 345.0 L376.0 348.1 L373.5 351.2 L371.6 356.2 L369.8 360.0 L369.1 364.4 L371.0 368.1 L373.5 371.2 L374.8 375.6 L373.5 380.0 M336.0 367.5 L341.0 368.8 L344.8 371.2 L348.5 373.1 L351.6 375.0 L353.5 377.5 L356.6 379.4 M336.0 368.0 L341.0 369.2 L344.8 371.8 L348.5 373.6 L351.6 376.1 L354.8 378.0 L357.2 381.8 L360.4 383.6 L364.8 382.4 L369.8 381.1 L373.5 380.5 L374.1 376.1 L372.9 372.4 L371.0 369.2 L369.8 368.0 M373.5 380.5 L375.4 384.2 L379.1 386.8 L383.5 384.9 L388.5 384.2 L393.5 384.9 L398.5 386.1 L402.2 389.2 L404.1 393.0 L407.2 397.4 L410.4 401.1 L414.1 402.4 L416.0 400.5 L420.0 400.8 M400.4 368.0 L401.0 371.8 L398.5 373.6 M420.0 400.8 L422.5 401.8 L423.8 404.9 L428.8 404.9 L433.8 404.2 L437.5 401.5 L441.2 402.4 L443.8 406.1 L447.5 408.0 L452.5 408.6 L457.5 409.0 L461.2 408.6 L463.8 410.5 L467.5 411.8"/>
<path stroke="#000" stroke-width="3.0" stroke-linejoin="round" stroke-linecap="round" d="M464.3 74.2 L463.7 77.8 L464.3 80.8 L468.5 80.2 L472.2 79.2 L473.1 74.2 M463.9 80.8 L463.5 87.0 L463.1 91.6 L464.3 93.8 L466.4 94.3 L467.2 92.4 L466.2 89.9 L467.7 88.2 M469.8 97.8 L470.0 101.6 L470.3 105.3 M433.6 145.0 L443.0 143.1 L451.8 142.4 M459.0 145.5 L462.0 145.2 M470.2 131.8 L472.0 134.0 M479.0 125.5 L479.8 126.5 M455.5 175.2 L457.0 175.2 M344.0 166.8 L351.5 164.2 L360.2 161.8 L369.0 161.0 L375.2 161.0 M381.5 160.2 L385.9 159.4 L390.2 158.5 M393.8 156.8 L395.2 156.8 M402.1 154.2 L410.2 153.0 M420.2 146.8 L426.5 146.0 M408.4 171.2 L409.6 172.0 M403.8 178.8 L404.5 180.5 M425.5 162.1 L426.8 163.8 M373.0 179.6 L375.2 180.9 M378.0 176.2 L380.2 179.0 M344.4 165.0 L348.1 165.8 L355.0 164.8 L358.8 164.0 M357.8 188.0 L361.9 190.0 L366.2 188.8 L368.5 185.9 M373.1 179.6 L375.0 180.2 M378.5 175.9 L379.2 178.0 M376.9 204.2 L382.5 203.8 L380.0 207.1 M384.0 169.0 L387.8 166.5 L390.9 164.2 M408.5 171.0 L410.0 171.8 M403.8 179.2 L405.0 180.5 M426.0 164.0 L427.2 164.2 M463.0 164.0 L464.6 164.2 M455.0 175.0 L456.8 176.0 M469.5 212.5 L470.5 214.0 M360.0 226.9 L365.0 223.1 L370.0 220.6 L371.9 220.0 M335.2 230.0 L336.5 230.8 M340.6 228.5 L341.0 233.5 M329.0 235.2 L330.0 236.2 M299.5 254.8 L300.1 264.8 M298.8 265.2 L301.2 271.0 L303.8 275.2 L308.0 279.2 L309.8 282.8 M303.9 341.5 L305.8 342.2 M460.2 272.0 L466.8 271.8"/>
</g>
<!-- frame -->
<g shape-rendering="crispEdges">
<path fill="#000" fill-rule="evenodd" d="M167 70H509V415H167Z M171 74V411H505V74Z"/>
<g fill="#fff">
<rect x="168" y="71" width="56" height="2"/><rect x="301" y="71" width="74" height="2"/><rect x="452" y="71" width="56" height="2"/>
<rect x="168" y="412" width="45" height="2"/><rect x="297" y="412" width="83" height="2"/><rect x="464" y="412" width="44" height="2"/>
<rect x="168" y="131" width="2" height="111"/><rect x="168" y="355" width="2" height="59"/>
<rect x="506" y="131" width="2" height="111"/><rect x="506" y="355" width="2" height="59"/>
</g></g>
</svg>
<div class="t ax" style="left:204px;top:57px">2</div><div class="t ax" style="left:280px;top:57px">4</div><div class="t ax" style="left:355px;top:57px">6</div><div class="t ax" style="left:431px;top:57px">8</div>
<div class="t ax" style="left:192px;top:416px">2</div><div class="t ax" style="left:276px;top:416px">4</div><div class="t ax" style="left:359px;top:416px">6</div><div class="t ax" style="left:444px;top:416px">8</div>
<div class="t ax" style="left:140px;top:123px;transform:rotate(-90deg) scaleX(1.08)">54</div><div class="t ax" style="left:140px;top:235px;transform:rotate(-90deg) scaleX(1.08)">52</div><div class="t ax" style="left:140px;top:348px;transform:rotate(-90deg) scaleX(1.08)">50</div>
<div class="t ax" style="left:496px;top:123px;transform:rotate(90deg) scaleX(1.08)">54</div><div class="t ax" style="left:496px;top:235px;transform:rotate(90deg) scaleX(1.08)">52</div><div class="t ax" style="left:496px;top:348px;transform:rotate(90deg) scaleX(1.08)">50</div>
<div id="bar"></div>
<div class="t cb" style="left:-13px;top:461px">0.0</div><div class="t cb" style="left:94px;top:461px">0.5</div><div class="t cb" style="left:201px;top:461px">1.0</div><div class="t cb" style="left:308px;top:461px">1.5</div><div class="t cb" style="left:415px;top:461px">2.0</div><div class="t cb" style="left:523px;top:461px">2.5</div><div class="t cb" style="left:630px;top:461px">3.0</div>
</body></html>
